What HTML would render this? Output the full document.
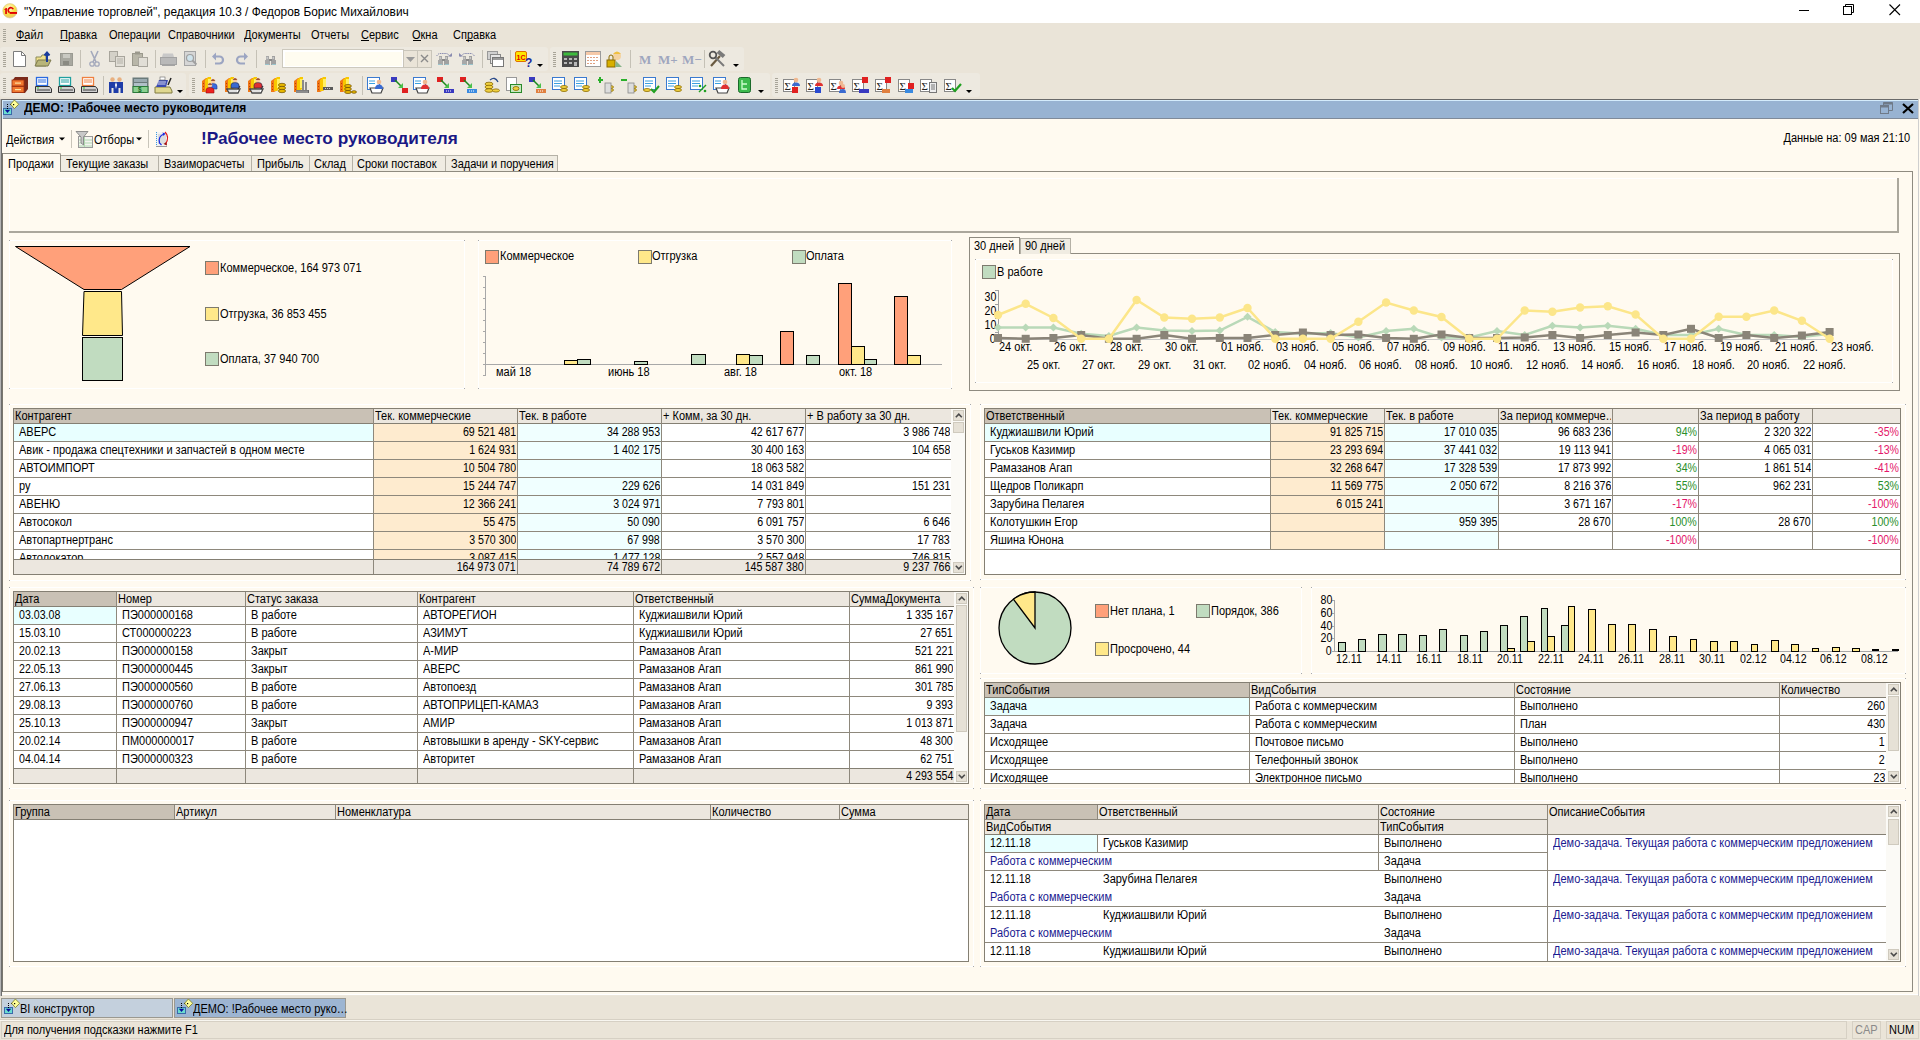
<!DOCTYPE html><html><head><meta charset="utf-8"><style>
html,body{margin:0;padding:0;width:1920px;height:1040px;overflow:hidden;background:#ECE6DA;font-family:"Liberation Sans",sans-serif;font-size:11px;line-height:13px;color:#000}
.t{position:absolute;white-space:nowrap}
.b{position:absolute;display:block}
svg.b{overflow:visible}
.c{position:absolute;top:1px;font-size:12px;line-height:14px;white-space:nowrap;transform:scaleX(0.917)}
</style></head><body>
<div class="b" style="left:0px;top:0px;width:1920px;height:23px;background:#FFFFFF;"></div>
<svg class="b" style="left:0px;top:0px" width="20" height="22" viewBox="0 0 20 22"><defs><radialGradient id="g1c" cx="45%" cy="30%" r="75%"><stop offset="0" stop-color="#FFFCE0"/><stop offset="0.55" stop-color="#F8E040"/><stop offset="1" stop-color="#E8C070"/></radialGradient></defs><circle cx="9.9" cy="10.8" r="7.2" fill="url(#g1c)" stroke="#D8C89A" stroke-width="0.6"/><path d="M4.3 9.2L6 7.9H6.9V13.9H5.2V9.6L4.3 10Z" fill="#E00000"/><path d="M13.2 9.3A2.6 2.6 0 1 0 9.6 12.6" fill="none" stroke="#E00000" stroke-width="1.7"/><rect x="9.7" y="12" width="7.3" height="1.9" fill="#E00000"/></svg>
<div class="t" style="top:5px;font-size:12px;line-height:14px;color:#000;left:24px;transform:scaleX(0.99);transform-origin:0 0;">"Управление торговлей", редакция 10.3 / Федоров Борис Михайлович</div>
<div class="b" style="left:1799px;top:10px;width:10px;height:1px;background:#000;"></div>
<svg class="b" style="left:1843px;top:4px" width="12" height="12"><rect x="0.5" y="2.5" width="8" height="8" fill="none" stroke="#000"/><path d="M2.5 2.5V0.5H10.5V8.5H8.5" fill="none" stroke="#000"/></svg>
<svg class="b" style="left:1889px;top:4px" width="12" height="12"><path d="M0.5 0.5L11 11M11 0.5L0.5 11" stroke="#000" stroke-width="1.1"/></svg>
<div class="b" style="left:0px;top:23px;width:1920px;height:76px;background:#EAE4D8;"></div>
<div class="b" style="left:3px;top:29px;width:3px;height:1px;background:#A8A498;"></div>
<div class="b" style="left:3px;top:31px;width:3px;height:1px;background:#A8A498;"></div>
<div class="b" style="left:3px;top:33px;width:3px;height:1px;background:#A8A498;"></div>
<div class="b" style="left:3px;top:35px;width:3px;height:1px;background:#A8A498;"></div>
<div class="b" style="left:3px;top:37px;width:3px;height:1px;background:#A8A498;"></div>
<div class="b" style="left:3px;top:39px;width:3px;height:1px;background:#A8A498;"></div>
<div class="b" style="left:3px;top:41px;width:3px;height:1px;background:#A8A498;"></div>
<div class="t" style="top:28px;font-size:12px;line-height:14px;left:16px;transform:scaleX(0.917);transform-origin:0 0;">Файл</div>
<div class="t" style="top:28px;font-size:12px;line-height:14px;left:60px;transform:scaleX(0.917);transform-origin:0 0;">Правка</div>
<div class="t" style="top:28px;font-size:12px;line-height:14px;left:109px;transform:scaleX(0.917);transform-origin:0 0;">Операции</div>
<div class="t" style="top:28px;font-size:12px;line-height:14px;left:168px;transform:scaleX(0.917);transform-origin:0 0;">Справочники</div>
<div class="t" style="top:28px;font-size:12px;line-height:14px;left:244px;transform:scaleX(0.917);transform-origin:0 0;">Документы</div>
<div class="t" style="top:28px;font-size:12px;line-height:14px;left:311px;transform:scaleX(0.917);transform-origin:0 0;">Отчеты</div>
<div class="t" style="top:28px;font-size:12px;line-height:14px;left:361px;transform:scaleX(0.917);transform-origin:0 0;">Сервис</div>
<div class="t" style="top:28px;font-size:12px;line-height:14px;left:412px;transform:scaleX(0.917);transform-origin:0 0;">Окна</div>
<div class="t" style="top:28px;font-size:12px;line-height:14px;left:453px;transform:scaleX(0.917);transform-origin:0 0;">Справка</div>
<div class="b" style="left:16px;top:40px;width:11px;height:1px;background:#000;"></div>
<div class="b" style="left:60px;top:40px;width:8px;height:1px;background:#000;"></div>
<div class="b" style="left:361px;top:40px;width:8px;height:1px;background:#000;"></div>
<div class="b" style="left:413px;top:40px;width:8px;height:1px;background:#000;"></div>
<div class="b" style="left:466px;top:40px;width:7px;height:1px;background:#000;"></div>
<div class="b" style="left:0px;top:47px;width:548px;height:24px;background:#EDE9E0;border-radius:3px;"></div>
<div class="b" style="left:3px;top:52px;width:3px;height:1px;background:#A8A498;"></div>
<div class="b" style="left:3px;top:54px;width:3px;height:1px;background:#A8A498;"></div>
<div class="b" style="left:3px;top:56px;width:3px;height:1px;background:#A8A498;"></div>
<div class="b" style="left:3px;top:58px;width:3px;height:1px;background:#A8A498;"></div>
<div class="b" style="left:3px;top:60px;width:3px;height:1px;background:#A8A498;"></div>
<div class="b" style="left:3px;top:62px;width:3px;height:1px;background:#A8A498;"></div>
<div class="b" style="left:3px;top:64px;width:3px;height:1px;background:#A8A498;"></div>
<div class="b" style="left:3px;top:66px;width:3px;height:1px;background:#A8A498;"></div>
<div class="b" style="left:550px;top:47px;width:194px;height:24px;background:#EDE9E0;border-radius:3px;"></div>
<div class="b" style="left:553px;top:52px;width:3px;height:1px;background:#A8A498;"></div>
<div class="b" style="left:553px;top:54px;width:3px;height:1px;background:#A8A498;"></div>
<div class="b" style="left:553px;top:56px;width:3px;height:1px;background:#A8A498;"></div>
<div class="b" style="left:553px;top:58px;width:3px;height:1px;background:#A8A498;"></div>
<div class="b" style="left:553px;top:60px;width:3px;height:1px;background:#A8A498;"></div>
<div class="b" style="left:553px;top:62px;width:3px;height:1px;background:#A8A498;"></div>
<div class="b" style="left:553px;top:64px;width:3px;height:1px;background:#A8A498;"></div>
<div class="b" style="left:553px;top:66px;width:3px;height:1px;background:#A8A498;"></div>
<div class="b" style="left:0px;top:73px;width:186px;height:24px;background:#EDE9E0;border-radius:3px;"></div>
<div class="b" style="left:3px;top:78px;width:3px;height:1px;background:#A8A498;"></div>
<div class="b" style="left:3px;top:80px;width:3px;height:1px;background:#A8A498;"></div>
<div class="b" style="left:3px;top:82px;width:3px;height:1px;background:#A8A498;"></div>
<div class="b" style="left:3px;top:84px;width:3px;height:1px;background:#A8A498;"></div>
<div class="b" style="left:3px;top:86px;width:3px;height:1px;background:#A8A498;"></div>
<div class="b" style="left:3px;top:88px;width:3px;height:1px;background:#A8A498;"></div>
<div class="b" style="left:3px;top:90px;width:3px;height:1px;background:#A8A498;"></div>
<div class="b" style="left:3px;top:92px;width:3px;height:1px;background:#A8A498;"></div>
<div class="b" style="left:189px;top:73px;width:581px;height:24px;background:#EDE9E0;border-radius:3px;"></div>
<div class="b" style="left:192px;top:78px;width:3px;height:1px;background:#A8A498;"></div>
<div class="b" style="left:192px;top:80px;width:3px;height:1px;background:#A8A498;"></div>
<div class="b" style="left:192px;top:82px;width:3px;height:1px;background:#A8A498;"></div>
<div class="b" style="left:192px;top:84px;width:3px;height:1px;background:#A8A498;"></div>
<div class="b" style="left:192px;top:86px;width:3px;height:1px;background:#A8A498;"></div>
<div class="b" style="left:192px;top:88px;width:3px;height:1px;background:#A8A498;"></div>
<div class="b" style="left:192px;top:90px;width:3px;height:1px;background:#A8A498;"></div>
<div class="b" style="left:192px;top:92px;width:3px;height:1px;background:#A8A498;"></div>
<div class="b" style="left:772px;top:73px;width:208px;height:24px;background:#EDE9E0;border-radius:3px;"></div>
<div class="b" style="left:775px;top:78px;width:3px;height:1px;background:#A8A498;"></div>
<div class="b" style="left:775px;top:80px;width:3px;height:1px;background:#A8A498;"></div>
<div class="b" style="left:775px;top:82px;width:3px;height:1px;background:#A8A498;"></div>
<div class="b" style="left:775px;top:84px;width:3px;height:1px;background:#A8A498;"></div>
<div class="b" style="left:775px;top:86px;width:3px;height:1px;background:#A8A498;"></div>
<div class="b" style="left:775px;top:88px;width:3px;height:1px;background:#A8A498;"></div>
<div class="b" style="left:775px;top:90px;width:3px;height:1px;background:#A8A498;"></div>
<div class="b" style="left:775px;top:92px;width:3px;height:1px;background:#A8A498;"></div>
<div class="b" style="left:0px;top:99px;width:1920px;height:1px;background:#6A6A6A;"></div>
<svg class="b" style="left:13px;top:51px" width="14" height="17" viewBox="0 0 14 17"><path d="M0.5 0.5H8.5L12.5 4.5V15.5H0.5Z" fill="#fff" stroke="#7C7C7C"/><path d="M8.5 0.5V4.5H12.5" fill="none" stroke="#7C7C7C"/></svg>
<svg class="b" style="left:35px;top:51px" width="17" height="16" viewBox="0 0 17 16"><path d="M1 6H6L7 4H11V15H1Z" fill="#F0E08A" stroke="#8B8B5A"/><path d="M0 15L3 9H16L13 15Z" fill="#B8B57A" stroke="#7D7A50"/><path d="M12 11V2M9.5 4.5L12 1.5L14.5 4.5" stroke="#1A3C9C" stroke-width="2" fill="none"/></svg>
<svg class="b" style="left:60px;top:53px" width="13" height="13" viewBox="0 0 13 13"><rect x="0.5" y="0.5" width="12" height="12" fill="#A8A8A0" stroke="#9A9A92"/><rect x="3" y="1" width="7" height="4" fill="#C9C9C2"/><rect x="3" y="8" width="6" height="4" fill="#8A8A82"/></svg>
<div class="b" style="left:80px;top:50px;width:1px;height:18px;background:#C5C1B6;"></div>
<svg class="b" style="left:89px;top:51px" width="11" height="16" viewBox="0 0 11 16"><path d="M2 0L7 11M9 0L4 11" stroke="#A4A9BC" stroke-width="1.6"/><circle cx="3" cy="13" r="2.2" fill="none" stroke="#A4A9BC" stroke-width="1.3"/><circle cx="8" cy="13" r="2.2" fill="none" stroke="#A4A9BC" stroke-width="1.3"/></svg>
<svg class="b" style="left:109px;top:51px" width="17" height="16" viewBox="0 0 17 16"><rect x="0.5" y="0.5" width="8" height="10" fill="#D4D1C8" stroke="#A8A59C"/><rect x="6.5" y="5.5" width="9" height="10" fill="#E1DED6" stroke="#A8A59C"/><path d="M8 8H14M8 10H14M8 12H14" stroke="#B4B1A8"/></svg>
<svg class="b" style="left:132px;top:51px" width="16" height="16" viewBox="0 0 16 16"><rect x="0.5" y="2.5" width="10" height="12" fill="#B8B6A8" stroke="#9A988C"/><rect x="3" y="0.5" width="5" height="3" fill="#9A988C"/><rect x="6.5" y="6.5" width="9" height="9" fill="#E1DED6" stroke="#A8A59C"/></svg>
<div class="b" style="left:155px;top:50px;width:1px;height:18px;background:#C5C1B6;"></div>
<svg class="b" style="left:160px;top:53px" width="17" height="14" viewBox="0 0 17 14"><path d="M3 0.5H13L14 4H2Z" fill="#C8C8C8"/><rect x="0.5" y="4.5" width="16" height="7" fill="#B9B9B9" stroke="#A3A3A3"/><rect x="2" y="11" width="13" height="2" fill="#A3A3A3"/></svg>
<svg class="b" style="left:184px;top:51px" width="14" height="16" viewBox="0 0 14 16"><rect x="0.5" y="0.5" width="11" height="14" fill="#D6D6D6" stroke="#A5A5A5"/><circle cx="6" cy="7" r="3.5" fill="#CFE3EC" stroke="#A0A0A0" stroke-width="1.2"/><path d="M8.5 9.5L12.5 13.5" stroke="#A0A0A0" stroke-width="1.8"/></svg>
<div class="b" style="left:205px;top:50px;width:1px;height:18px;background:#C5C1B6;"></div>
<svg class="b" style="left:212px;top:52px" width="12" height="14" viewBox="0 0 12 14"><g><path d="M2.5 4.5H7.5A3.5 3.5 0 0 1 7.5 11.5H3" fill="none" stroke="#9CA5C2" stroke-width="2.2"/><path d="M0 4.5L4 0.5V8.5Z" fill="#9CA5C2"/></g></svg>
<svg class="b" style="left:236px;top:52px" width="12" height="14" viewBox="0 0 12 14"><g transform="translate(12,0) scale(-1,1)"><path d="M2.5 4.5H7.5A3.5 3.5 0 0 1 7.5 11.5H3" fill="none" stroke="#9CA5C2" stroke-width="2.2"/><path d="M0 4.5L4 0.5V8.5Z" fill="#9CA5C2"/></g></svg>
<div class="b" style="left:256px;top:50px;width:1px;height:18px;background:#C5C1B6;"></div>
<svg class="b" style="left:265px;top:56px" width="12" height="10" viewBox="0 0 12 10"><g transform="translate(0,0)"><path d="M1 0H4V4H5V9H0V4H1Z" fill="#A8A8A8"/><path d="M7 0H10V4H11V9H6V4H7Z" fill="#A0A0A0"/><rect x="4" y="3" width="3" height="2" fill="#8A8A8A"/><rect x="1.5" y="1" width="1.5" height="2" fill="#C8C8C8"/><rect x="7.5" y="1" width="1.5" height="2" fill="#C8C8C8"/><rect x="0" y="8" width="4" height="1" fill="#9AC4CC"/><rect x="7" y="8" width="4" height="1" fill="#9AC4CC"/></g></svg>
<div class="b" style="left:282px;top:49px;width:122px;height:19px;background:#FFFFFF;box-sizing:border-box;border:1px solid #CDC9BE;"></div>
<div class="b" style="left:285px;top:52px;width:117px;height:14px;background:#FFFCF0;"></div>
<div class="b" style="left:403px;top:50px;width:15px;height:18px;background:#EAE4D8;box-sizing:border-box;border:1px solid #C9C5BA;"></div>
<div class="b" style="left:417px;top:50px;width:15px;height:18px;background:#EAE4D8;box-sizing:border-box;border:1px solid #C9C5BA;"></div>
<svg class="b" style="left:406px;top:57px" width="9" height="5" viewBox="0 0 9 5"><path d="M0 0H9L4.5 5Z" fill="#9A9A9A"/></svg>
<svg class="b" style="left:420px;top:54px" width="9" height="9" viewBox="0 0 9 9"><path d="M1 1L8 8M8 1L1 8" stroke="#8A8A8A" stroke-width="1.4"/></svg>
<svg class="b" style="left:436px;top:51px" width="17" height="15" viewBox="0 0 17 15"><path d="M0.5 5L3 2.5H11L14.5 5.5" fill="none" stroke="#8A8CB0" stroke-dasharray="1.5 0.7"/><path d="M12 5.5H16V2Z" fill="#8A8CB0"/><g transform="translate(2,5)"><path d="M1 0H4V4H5V9H0V4H1Z" fill="#A8A8A8"/><path d="M7 0H10V4H11V9H6V4H7Z" fill="#A0A0A0"/><rect x="4" y="3" width="3" height="2" fill="#8A8A8A"/><rect x="1.5" y="1" width="1.5" height="2" fill="#C8C8C8"/><rect x="7.5" y="1" width="1.5" height="2" fill="#C8C8C8"/><rect x="0" y="8" width="4" height="1" fill="#9AC4CC"/><rect x="7" y="8" width="4" height="1" fill="#9AC4CC"/></g></svg>
<svg class="b" style="left:459px;top:51px" width="17" height="15" viewBox="0 0 17 15"><path d="M15.5 5L13 2.5H5L1.5 5.5" fill="none" stroke="#8A8CB0" stroke-dasharray="1.5 0.7"/><path d="M4 5.5H0V2Z" fill="#8A8CB0"/><g transform="translate(3,5)"><path d="M1 0H4V4H5V9H0V4H1Z" fill="#A8A8A8"/><path d="M7 0H10V4H11V9H6V4H7Z" fill="#A0A0A0"/><rect x="4" y="3" width="3" height="2" fill="#8A8A8A"/><rect x="1.5" y="1" width="1.5" height="2" fill="#C8C8C8"/><rect x="7.5" y="1" width="1.5" height="2" fill="#C8C8C8"/><rect x="0" y="8" width="4" height="1" fill="#9AC4CC"/><rect x="7" y="8" width="4" height="1" fill="#9AC4CC"/></g></svg>
<div class="b" style="left:482px;top:50px;width:1px;height:18px;background:#C5C1B6;"></div>
<svg class="b" style="left:487px;top:51px" width="17" height="16" viewBox="0 0 17 16"><rect x="0.5" y="0.5" width="10" height="8" fill="#D0D0D0" stroke="#999"/><rect x="3.5" y="3.5" width="10" height="9" fill="#E6E6E6" stroke="#888"/><rect x="5.5" y="6.5" width="11" height="9" fill="#fff" stroke="#777"/><rect x="6" y="7" width="10" height="2" fill="#9A9A9A"/></svg>
<div class="b" style="left:510px;top:50px;width:1px;height:18px;background:#C5C1B6;"></div>
<svg class="b" style="left:515px;top:51px" width="18" height="17" viewBox="0 0 18 17"><rect x="0.5" y="0.5" width="11" height="10" rx="1.5" fill="#FFE700" stroke="#E07000"/><text x="1.5" y="8.5" font-family="Liberation Sans" font-weight="bold" font-size="7" fill="#E00000">1С</text><text x="10" y="16" font-family="Liberation Sans" font-weight="bold" font-size="12" fill="#1A2A9A">?</text></svg>
<svg class="b" style="left:537px;top:64px" width="6" height="3" viewBox="0 0 6 3"><path d="M0 0H6L3 3Z" fill="#000"/></svg>
<svg class="b" style="left:562px;top:51px" width="17" height="16" viewBox="0 0 17 16"><rect x="0" y="0" width="17" height="16" fill="#4A4A4A"/><rect x="1.5" y="1.5" width="14" height="3" fill="#3DBA3D"/><g fill="#B8B8B8"><rect x="2" y="7" width="3" height="2"/><rect x="7" y="7" width="3" height="2"/><rect x="12" y="7" width="3" height="2"/><rect x="2" y="11" width="3" height="2"/><rect x="7" y="11" width="3" height="2"/><rect x="12" y="11" width="3" height="4"/></g></svg>
<svg class="b" style="left:585px;top:51px" width="16" height="16" viewBox="0 0 16 16"><rect x="0.5" y="0.5" width="15" height="15" fill="#fff" stroke="#9A9A9A"/><rect x="1" y="1" width="14" height="3" fill="#F6C9A8"/><g fill="#E0A080"><rect x="2" y="6" width="2" height="1"/><rect x="5" y="6" width="2" height="1"/><rect x="8" y="6" width="2" height="1"/><rect x="11" y="6" width="2" height="1"/><rect x="2" y="9" width="2" height="1"/><rect x="5" y="9" width="2" height="1"/><rect x="8" y="9" width="2" height="1"/><rect x="11" y="9" width="2" height="1"/><rect x="2" y="12" width="2" height="1"/><rect x="5" y="12" width="2" height="1"/><rect x="8" y="12" width="2" height="1"/></g></svg>
<svg class="b" style="left:607px;top:51px" width="16" height="17" viewBox="0 0 16 17"><circle cx="10" cy="5" r="4" fill="#F4D3A0"/><path d="M6 3Q10 -2 14 3" fill="#F0C040"/><rect x="0" y="9" width="8" height="7" fill="#D8B000" stroke="#8A6A00"/><path d="M2 9V6A2 2 0 0 1 6 6V9" fill="none" stroke="#8A6A00"/><path d="M9 10L15 16H8Z" fill="#88B488"/></svg>
<div class="b" style="left:630px;top:50px;width:1px;height:18px;background:#C5C1B6;"></div>
<div class="t" style="left:639px;top:52px;font-family:Liberation Serif;font-weight:bold;font-size:13px;line-height:15px;color:#9FA6BE">M</div>
<div class="t" style="left:658px;top:52px;font-family:Liberation Serif;font-weight:bold;font-size:13px;line-height:15px;color:#9FA6BE">M+</div>
<div class="t" style="left:682px;top:52px;font-family:Liberation Serif;font-weight:bold;font-size:13px;line-height:15px;color:#9FA6BE">M−</div>
<div class="b" style="left:704px;top:50px;width:1px;height:18px;background:#C5C1B6;"></div>
<svg class="b" style="left:709px;top:51px" width="17" height="16" viewBox="0 0 17 16"><path d="M2 15L11 5" stroke="#6A5A40" stroke-width="2.2"/><path d="M15 15L6 6" stroke="#7A7A7A" stroke-width="2"/><rect x="8" y="1" width="8" height="4" fill="#7A7A7A" transform="rotate(40 12 3)"/><circle cx="4" cy="4" r="3.3" fill="none" stroke="#555" stroke-width="1.8"/></svg>
<svg class="b" style="left:733px;top:64px" width="6" height="3" viewBox="0 0 6 3"><path d="M0 0H6L3 3Z" fill="#000"/></svg>
<svg class="b" style="left:12px;top:77px" width="16" height="16" viewBox="0 0 16 16"><path d="M3 0H16V12L13 16H0V4Z" fill="#7A2A1A"/><rect x="0" y="3" width="12" height="6" fill="#F07830" stroke="#A03010" stroke-width="0.8"/><rect x="0" y="9.5" width="12" height="6" fill="#F07830" stroke="#A03010" stroke-width="0.8"/><rect x="3" y="5.5" width="6" height="1.2" fill="#FFE0A0"/><rect x="3" y="12" width="6" height="1.2" fill="#FFE0A0"/></svg>
<svg class="b" style="left:35px;top:77px" width="17" height="16" viewBox="0 0 17 16"><rect x="1.5" y="0.5" width="11" height="8" fill="#fff" stroke="#2A6AE0" stroke-width="1.3"/><path d="M3 3H11M3 5H11" stroke="#2A6AE0"/><path d="M0.5 9.5H14.5L16.5 12V15.5H0.5Z" fill="#D0D0D0" stroke="#333"/><rect x="2" y="12" width="13" height="2" fill="#888"/><rect x="2" y="10.5" width="2" height="1" fill="#3C3"/></svg>
<svg class="b" style="left:58px;top:77px" width="17" height="16" viewBox="0 0 17 16"><rect x="1.5" y="0.5" width="11" height="8" fill="#fff" stroke="#20A0A0" stroke-width="1.3"/><path d="M3 3H11M3 5H11" stroke="#20A0A0"/><path d="M0.5 9.5H14.5L16.5 12V15.5H0.5Z" fill="#D0D0D0" stroke="#333"/><rect x="2" y="12" width="13" height="2" fill="#888"/><rect x="2" y="10.5" width="2" height="1" fill="#3C3"/></svg>
<svg class="b" style="left:81px;top:77px" width="17" height="16" viewBox="0 0 17 16"><rect x="1.5" y="0.5" width="11" height="8" fill="#fff" stroke="#F08040" stroke-width="1.3"/><path d="M3 3H11M3 5H11" stroke="#F08040"/><path d="M0.5 9.5H14.5L16.5 12V15.5H0.5Z" fill="#D0D0D0" stroke="#333"/><rect x="2" y="12" width="13" height="2" fill="#888"/><rect x="2" y="10.5" width="2" height="1" fill="#3C3"/></svg>
<div class="b" style="left:103px;top:76px;width:1px;height:19px;background:#C5C1B6;"></div>
<svg class="b" style="left:109px;top:77px" width="14" height="16" viewBox="0 0 14 16"><circle cx="3.5" cy="2.5" r="2.2" fill="#E8B080"/><circle cx="10.5" cy="2.5" r="2.2" fill="#E8B080"/><path d="M0 5H7V16H4.5V11H2.5V16H0Z" fill="#1F3CA8"/><path d="M7 5H14V16H11.5V11H9.5V16H7Z" fill="#1F3CA8"/><path d="M6 8L7 5L8 8L7 12Z" fill="#fff"/></svg>
<svg class="b" style="left:132px;top:77px" width="17" height="16" viewBox="0 0 17 16"><rect x="0.5" y="0.5" width="16" height="15" fill="#6A7A7A"/><rect x="2" y="2" width="13" height="3" fill="#9AAAB0"/><rect x="2" y="6" width="13" height="3" fill="#B0C0C8"/><rect x="1" y="9.5" width="15" height="6" fill="#8AD090" stroke="#2A7A3A"/><text x="6" y="15" font-family="Liberation Sans" font-weight="bold" font-size="6.5" fill="#1A6A2A">$</text></svg>
<svg class="b" style="left:155px;top:77px" width="17" height="16" viewBox="0 0 17 16"><path d="M0 10H15L17 14V16H0Z" fill="#E0D890" stroke="#807A40"/><path d="M1 10L4 3H13L11 10Z" fill="#3A4AB0"/><path d="M3 5H11M2.5 7H10.5" stroke="#fff" stroke-width="0.8"/><path d="M13 8L16 1" stroke="#222" stroke-width="1.5"/><rect x="5" y="0" width="5" height="3" fill="#fff" stroke="#666" stroke-width="0.6"/></svg>
<svg class="b" style="left:177px;top:90px" width="6" height="3" viewBox="0 0 6 3"><path d="M0 0H6L3 3Z" fill="#000"/></svg>
<svg class="b" style="left:202px;top:77px" width="16" height="16" viewBox="0 0 16 16"><path d="M0 4L4 1H7V13L3 15H0Z" fill="#F07818"/><path d="M3 3L6 0H9V11L6 14H3Z" fill="#F8C800"/><path d="M6 2H9V11H6Z" fill="#FFF060"/><g fill="#C04000"><rect x="1" y="6" width="1" height="1"/><rect x="1" y="9" width="1" height="1"/><rect x="1" y="12" width="1" height="1"/></g><path d="M7 12V9Q7 6.5 11 6.5Q15 6.5 15 9V12Z" fill="#3A6AE0" stroke="#1A3A90" stroke-width="0.6"/><circle cx="11" cy="4" r="2.3" fill="#F8C8A0"/><path d="M8.6 3.8Q11 0.5 13.4 3.8" fill="#7A2A10"/><path d="M4 16V13Q4 10.5 8 10.5Q12 10.5 12 13V16Z" fill="#F02020" stroke="#901010" stroke-width="0.6"/><circle cx="8" cy="8" r="2.3" fill="#F8C8A0"/><path d="M5.6 7.8Q8 4.5 10.4 7.8" fill="#7A2A10"/></svg>
<svg class="b" style="left:225px;top:77px" width="16" height="16" viewBox="0 0 16 16"><g><path d="M0 4L4 1H7V13L3 15H0Z" fill="#F07818"/><path d="M3 3L6 0H9V11L6 14H3Z" fill="#F8C800"/><path d="M6 2H9V11H6Z" fill="#FFF060"/><g fill="#C04000"><rect x="1" y="6" width="1" height="1"/><rect x="1" y="9" width="1" height="1"/><rect x="1" y="12" width="1" height="1"/></g></g><g transform="translate(2,2)"><path d="M0 10H13L11 14H2Z" fill="#fff" stroke="#4A4A4A" stroke-width="1.3"/><path d="M2.5 12H10.5" stroke="#888" stroke-dasharray="1 1"/><path d="M11 10L13 7" stroke="#333" stroke-width="1.2"/></g><path d="M6 11V8Q6 5.5 10 5.5Q14 5.5 14 8V11Z" fill="#3A6AD0" stroke="#202040" stroke-width="0.6"/><circle cx="10" cy="3" r="2.3" fill="#F8C8A0"/><path d="M7.6 2.8Q10 -0.5 12.4 2.8" fill="#7A2A10"/></svg>
<svg class="b" style="left:248px;top:77px" width="16" height="16" viewBox="0 0 16 16"><g><path d="M0 4L4 1H7V13L3 15H0Z" fill="#F07818"/><path d="M3 3L6 0H9V11L6 14H3Z" fill="#F8C800"/><path d="M6 2H9V11H6Z" fill="#FFF060"/><g fill="#C04000"><rect x="1" y="6" width="1" height="1"/><rect x="1" y="9" width="1" height="1"/><rect x="1" y="12" width="1" height="1"/></g></g><g transform="translate(2,2)"><path d="M0 10H13L11 14H2Z" fill="#fff" stroke="#4A4A4A" stroke-width="1.3"/><path d="M2.5 12H10.5" stroke="#888" stroke-dasharray="1 1"/><path d="M11 10L13 7" stroke="#333" stroke-width="1.2"/></g><path d="M6 11V8Q6 5.5 10 5.5Q14 5.5 14 8V11Z" fill="#E03030" stroke="#202040" stroke-width="0.6"/><circle cx="10" cy="3" r="2.3" fill="#F8C8A0"/><path d="M7.6 2.8Q10 -0.5 12.4 2.8" fill="#7A2A10"/></svg>
<svg class="b" style="left:271px;top:77px" width="16" height="16" viewBox="0 0 16 16"><path d="M0 4L4 1H7V13L3 15H0Z" fill="#F07818"/><path d="M3 3L6 0H9V11L6 14H3Z" fill="#F8C800"/><path d="M6 2H9V11H6Z" fill="#FFF060"/><g fill="#C04000"><rect x="1" y="6" width="1" height="1"/><rect x="1" y="9" width="1" height="1"/><rect x="1" y="12" width="1" height="1"/></g><g stroke="#6A4A00" stroke-width="0.7"><ellipse cx="11" cy="8" rx="3.6" ry="1.7" fill="#E8B800"/><ellipse cx="11" cy="11" rx="3.6" ry="1.7" fill="#E8B800"/><ellipse cx="11" cy="14" rx="3.6" ry="1.7" fill="#E8B800"/></g></svg>
<svg class="b" style="left:294px;top:77px" width="16" height="16" viewBox="0 0 16 16"><path d="M0 4L4 1H7V13L3 15H0Z" fill="#F07818"/><path d="M3 3L6 0H9V11L6 14H3Z" fill="#F8C800"/><path d="M6 2H9V11H6Z" fill="#FFF060"/><g fill="#C04000"><rect x="1" y="6" width="1" height="1"/><rect x="1" y="9" width="1" height="1"/><rect x="1" y="12" width="1" height="1"/></g><rect x="2" y="13" width="13" height="3" fill="#6A6A6A"/><path d="M3 13.5V16M5 13.5V16M7 13.5V16M9 13.5V16M11 13.5V16M13 13.5V16" stroke="#C0C0C0" stroke-width="0.8"/><rect x="8" y="3" width="2" height="10" fill="#8A8A8A"/><rect x="11" y="5" width="2" height="8" fill="#8A8A8A"/></svg>
<svg class="b" style="left:317px;top:77px" width="16" height="16" viewBox="0 0 16 16"><path d="M0 4L4 1H7V13L3 15H0Z" fill="#F07818"/><path d="M3 3L6 0H9V11L6 14H3Z" fill="#F8C800"/><path d="M6 2H9V11H6Z" fill="#FFF060"/><g fill="#C04000"><rect x="1" y="6" width="1" height="1"/><rect x="1" y="9" width="1" height="1"/><rect x="1" y="12" width="1" height="1"/></g><rect x="6" y="10" width="10" height="3" fill="#5A5A5A"/><path d="M8 11.5H14" stroke="#ccc" stroke-dasharray="1 1"/></svg>
<svg class="b" style="left:340px;top:77px" width="16" height="16" viewBox="0 0 16 16"><path d="M0 4L4 1H7V13L3 15H0Z" fill="#F07818"/><path d="M3 3L6 0H9V11L6 14H3Z" fill="#F8C800"/><path d="M6 2H9V11H6Z" fill="#FFF060"/><g fill="#C04000"><rect x="1" y="6" width="1" height="1"/><rect x="1" y="9" width="1" height="1"/><rect x="1" y="12" width="1" height="1"/></g><g stroke="#6A4A00" stroke-width="0.7"><ellipse cx="8" cy="9" rx="3.4" ry="1.6" fill="#E8B800"/><ellipse cx="8" cy="12" rx="3.4" ry="1.6" fill="#E8B800"/><ellipse cx="8" cy="15" rx="3.4" ry="1.5" fill="#E8B800"/><ellipse cx="14" cy="15" rx="2.5" ry="1.3" fill="#E8B800"/></g></svg>
<div class="b" style="left:362px;top:76px;width:1px;height:19px;background:#C5C1B6;"></div>
<svg class="b" style="left:367px;top:77px" width="17" height="16" viewBox="0 0 17 16"><rect x="0.5" y="0.5" width="12" height="12" fill="#fff" stroke="#3A7AD0"/><path d="M2 4H8M2 6.5H8" stroke="#3AA0E0"/><path d="M3 11H16L14 16H5Z" fill="#fff" stroke="#444" stroke-width="1.2"/><circle cx="12" cy="5" r="2.3" fill="#F0B890"/><path d="M8 12Q8 7.5 12 7.5Q16 7.5 16 12Z" fill="#3A6AD0"/></svg>
<svg class="b" style="left:391px;top:77px" width="17" height="16" viewBox="0 0 17 16"><rect x="0" y="0" width="6" height="5" fill="#3A3AC0"/><path d="M4 3L11 10" stroke="#1A8A1A" stroke-width="1.5"/><path d="M7 11H12V6Z" fill="#4AC04A"/><rect x="11" y="11" width="6" height="5" fill="#E02020"/></svg>
<svg class="b" style="left:413px;top:77px" width="17" height="16" viewBox="0 0 17 16"><rect x="0.5" y="0.5" width="12" height="12" fill="#fff" stroke="#3A7AD0"/><path d="M2 4H8M2 6.5H8" stroke="#3AA0E0"/><path d="M3 11H16L14 16H5Z" fill="#fff" stroke="#444" stroke-width="1.2"/><circle cx="12" cy="5" r="2.3" fill="#F0B890"/><path d="M8 12Q8 7.5 12 7.5Q16 7.5 16 12Z" fill="#E03030"/></svg>
<svg class="b" style="left:437px;top:77px" width="17" height="16" viewBox="0 0 17 16"><rect x="0" y="0" width="6" height="5" fill="#E02020"/><path d="M4 3L11 10" stroke="#1A8A1A" stroke-width="1.5"/><path d="M7 11H12V6Z" fill="#4AC04A"/><rect x="7" y="12" width="10" height="4" fill="#3A3AC0"/><path d="M9 14H15" stroke="#fff" stroke-dasharray="1 1"/></svg>
<svg class="b" style="left:460px;top:77px" width="17" height="16" viewBox="0 0 17 16"><rect x="0" y="0" width="6" height="5" fill="#E02020"/><path d="M4 3L11 10" stroke="#1A8A1A" stroke-width="1.5"/><path d="M7 11H12V6Z" fill="#4AC04A"/><rect x="7" y="12" width="10" height="4" fill="#3A8AE0"/><path d="M9 14H15" stroke="#fff" stroke-dasharray="1 1"/></svg>
<svg class="b" style="left:484px;top:77px" width="16" height="16" viewBox="0 0 16 16"><ellipse cx="5" cy="7" rx="4" ry="1.8" fill="#F0D040" stroke="#8A6A00" stroke-width="0.8"/><ellipse cx="5" cy="10" rx="4" ry="1.8" fill="#F0D040" stroke="#8A6A00" stroke-width="0.8"/><ellipse cx="5" cy="13.5" rx="4" ry="1.8" fill="#F0D040" stroke="#8A6A00" stroke-width="0.8"/><ellipse cx="12" cy="13.5" rx="3.5" ry="1.6" fill="#F0D040" stroke="#8A6A00" stroke-width="0.8"/><path d="M6 3Q11 -1 14 5" fill="none" stroke="#2A4A8A" stroke-width="1.3"/></svg>
<svg class="b" style="left:506px;top:77px" width="16" height="16" viewBox="0 0 16 16"><rect x="0.5" y="0.5" width="10" height="13" fill="#fff" stroke="#999"/><rect x="4.5" y="7.5" width="11" height="8" fill="#C8E8C0" stroke="#2A8A2A"/><ellipse cx="10" cy="11.5" rx="3" ry="2" fill="#F0D040" stroke="#8A6A00" stroke-width="0.8"/></svg>
<svg class="b" style="left:529px;top:77px" width="17" height="16" viewBox="0 0 17 16"><rect x="0" y="0" width="6" height="5" fill="#3A3AC0"/><path d="M4 3L11 10" stroke="#1A8A1A" stroke-width="1.5"/><path d="M7 11H12V6Z" fill="#4AC04A"/><rect x="7" y="12" width="10" height="4" fill="#E08040"/><path d="M9 14H15" stroke="#fff" stroke-dasharray="1 1"/></svg>
<svg class="b" style="left:552px;top:77px" width="17" height="16" viewBox="0 0 17 16"><rect x="0.5" y="0.5" width="12" height="12" fill="#fff" stroke="#3A7AD0"/><path d="M2 4H10M2 6.5H10M2 9H8" stroke="#3AA0E0"/><ellipse cx="12" cy="10" rx="3.5" ry="1.5" fill="#F0D040" stroke="#8A6A00" stroke-width="0.8"/><ellipse cx="12" cy="13" rx="3.5" ry="1.5" fill="#F0D040" stroke="#8A6A00" stroke-width="0.8"/></svg>
<svg class="b" style="left:574px;top:77px" width="17" height="16" viewBox="0 0 17 16"><rect x="0.5" y="0.5" width="12" height="12" fill="#fff" stroke="#3A7AD0"/><path d="M2 4H10M2 6.5H10M2 9H8" stroke="#3AA0E0"/><ellipse cx="12" cy="10" rx="3.5" ry="1.5" fill="#F0D040" stroke="#8A6A00" stroke-width="0.8"/><ellipse cx="12" cy="13" rx="3.5" ry="1.5" fill="#F0D040" stroke="#8A6A00" stroke-width="0.8"/></svg>
<svg class="b" style="left:598px;top:77px" width="16" height="16" viewBox="0 0 16 16"><path d="M2 0V6M0 3H5" stroke="#2AB02A" stroke-width="2"/><ellipse cx="12" cy="10" rx="3.5" ry="1.5" fill="#F0D040" stroke="#8A6A00" stroke-width="0.8"/><ellipse cx="12" cy="13" rx="3.5" ry="1.5" fill="#F0D040" stroke="#8A6A00" stroke-width="0.8"/><rect x="7" y="6" width="6" height="10" fill="#ddd" stroke="#888" stroke-width="0.8"/></svg>
<svg class="b" style="left:621px;top:77px" width="16" height="16" viewBox="0 0 16 16"><path d="M0 3H6" stroke="#2AB02A" stroke-width="2"/><ellipse cx="12" cy="10" rx="3.5" ry="1.5" fill="#F0D040" stroke="#8A6A00" stroke-width="0.8"/><ellipse cx="12" cy="13" rx="3.5" ry="1.5" fill="#F0D040" stroke="#8A6A00" stroke-width="0.8"/><rect x="7" y="6" width="6" height="10" fill="#ddd" stroke="#888" stroke-width="0.8"/></svg>
<svg class="b" style="left:643px;top:77px" width="17" height="16" viewBox="0 0 17 16"><rect x="0.5" y="0.5" width="12" height="12" fill="#fff" stroke="#3A7AD0"/><path d="M2 4H10M2 6.5H10M2 9H8" stroke="#3AA0E0"/><path d="M8 12L11 15L16 9" stroke="#20A020" stroke-width="2" fill="none"/><ellipse cx="4" cy="13" rx="3.5" ry="1.5" fill="#F0D040" stroke="#8A6A00" stroke-width="0.8"/></svg>
<svg class="b" style="left:666px;top:77px" width="17" height="16" viewBox="0 0 17 16"><rect x="0.5" y="0.5" width="12" height="12" fill="#fff" stroke="#3A7AD0"/><path d="M2 4H10M2 6.5H10M2 9H8" stroke="#3AA0E0"/><ellipse cx="12" cy="10" rx="3.5" ry="1.5" fill="#F0D040" stroke="#8A6A00" stroke-width="0.8"/><ellipse cx="12" cy="13" rx="3.5" ry="1.5" fill="#F0D040" stroke="#8A6A00" stroke-width="0.8"/></svg>
<svg class="b" style="left:690px;top:77px" width="17" height="16" viewBox="0 0 17 16"><rect x="0.5" y="0.5" width="12" height="12" fill="#fff" stroke="#3A7AD0"/><path d="M2 4H10M2 6.5H10M2 9H8" stroke="#3AA0E0"/><path d="M9 15L16 8" stroke="#20A020" stroke-width="1.5"/><circle cx="10" cy="9" r="1.3" fill="#20A020"/><circle cx="15" cy="14" r="1.3" fill="#20A020"/></svg>
<svg class="b" style="left:713px;top:77px" width="17" height="16" viewBox="0 0 17 16"><rect x="0.5" y="0.5" width="12" height="12" fill="#fff" stroke="#3A7AD0"/><path d="M2 4H8M2 6.5H8" stroke="#3AA0E0"/><path d="M3 11H16L14 16H5Z" fill="#fff" stroke="#444" stroke-width="1.2"/><circle cx="12" cy="5" r="2.3" fill="#F0B890"/><path d="M8 12Q8 7.5 12 7.5Q16 7.5 16 12Z" fill="#E03030"/></svg>
<svg class="b" style="left:738px;top:77px" width="13" height="16" viewBox="0 0 13 16"><rect x="0.5" y="0.5" width="12" height="15" rx="2" fill="#3DBA4D" stroke="#1A6A2A"/><path d="M4 3V12H9M4 7H9" stroke="#D0FFD0" stroke-width="1.3" fill="none"/></svg>
<svg class="b" style="left:758px;top:90px" width="6" height="3" viewBox="0 0 6 3"><path d="M0 0H6L3 3Z" fill="#000"/></svg>
<svg class="b" style="left:783px;top:77px" width="17" height="16" viewBox="0 0 17 16"><rect x="0.5" y="2.5" width="11" height="12" fill="#fff" stroke="#888"/><text x="1.5" y="12.5" font-family="Liberation Serif" font-size="11" fill="#222">Σ</text><circle cx="13" cy="3" r="2.3" fill="#F0B890"/><path d="M9 9Q9 5.5 13 5.5Q17 5.5 17 9Z" fill="#3A6AD0"/><rect x="9" y="10" width="6" height="6" fill="#E02020"/></svg>
<svg class="b" style="left:806px;top:77px" width="17" height="16" viewBox="0 0 17 16"><rect x="0.5" y="2.5" width="11" height="12" fill="#fff" stroke="#888"/><text x="1.5" y="12.5" font-family="Liberation Serif" font-size="11" fill="#222">Σ</text><circle cx="13" cy="3" r="2.3" fill="#F0B890"/><path d="M9 9Q9 5.5 13 5.5Q17 5.5 17 9Z" fill="#E03030"/><rect x="9" y="10" width="6" height="6" fill="#2A4AD0"/></svg>
<svg class="b" style="left:829px;top:77px" width="17" height="16" viewBox="0 0 17 16"><rect x="0.5" y="2.5" width="11" height="12" fill="#fff" stroke="#888"/><text x="1.5" y="12.5" font-family="Liberation Serif" font-size="11" fill="#222">Σ</text><circle cx="12" cy="6" r="2.3" fill="#F0B890"/><path d="M8 12Q8 8.5 12 8.5Q16 8.5 16 12Z" fill="#E03030"/><circle cx="14" cy="9" r="2" fill="#F0B890"/><path d="M10 16Q10 12 14 12Q17 12 17 16Z" fill="#3A6AD0"/></svg>
<svg class="b" style="left:852px;top:77px" width="17" height="16" viewBox="0 0 17 16"><rect x="0.5" y="2.5" width="11" height="12" fill="#fff" stroke="#888"/><text x="1.5" y="12.5" font-family="Liberation Serif" font-size="11" fill="#222">Σ</text><rect x="10" y="0" width="6" height="6" fill="#E02020"/><rect x="7" y="12" width="10" height="4" fill="#3A3AC0"/></svg>
<svg class="b" style="left:875px;top:77px" width="17" height="16" viewBox="0 0 17 16"><rect x="0.5" y="2.5" width="11" height="12" fill="#fff" stroke="#888"/><text x="1.5" y="12.5" font-family="Liberation Serif" font-size="11" fill="#222">Σ</text><rect x="10" y="0" width="6" height="6" fill="#E02020"/><rect x="7" y="12" width="8" height="4" fill="#E08040"/></svg>
<svg class="b" style="left:898px;top:77px" width="17" height="16" viewBox="0 0 17 16"><rect x="0.5" y="2.5" width="11" height="12" fill="#fff" stroke="#888"/><text x="1.5" y="12.5" font-family="Liberation Serif" font-size="11" fill="#222">Σ</text><rect x="10" y="6" width="6" height="6" fill="#E02020"/><rect x="7" y="12" width="8" height="4" fill="#3A8AE0"/></svg>
<svg class="b" style="left:920px;top:77px" width="17" height="16" viewBox="0 0 17 16"><rect x="0.5" y="2.5" width="11" height="12" fill="#fff" stroke="#888"/><text x="1.5" y="12.5" font-family="Liberation Serif" font-size="11" fill="#222">Σ</text><rect x="9.5" y="5.5" width="7" height="10" fill="#eee" stroke="#777"/><path d="M11 8H15M11 10H15M11 12H15" stroke="#777"/></svg>
<svg class="b" style="left:944px;top:77px" width="17" height="16" viewBox="0 0 17 16"><rect x="0.5" y="2.5" width="11" height="12" fill="#fff" stroke="#888"/><text x="1.5" y="12.5" font-family="Liberation Serif" font-size="11" fill="#222">Σ</text><path d="M8 11L11 14L17 7" stroke="#20A020" stroke-width="2.2" fill="none"/></svg>
<svg class="b" style="left:966px;top:90px" width="6" height="3" viewBox="0 0 6 3"><path d="M0 0H6L3 3Z" fill="#000"/></svg>
<div class="b" style="left:0px;top:100px;width:1918px;height:18px;background:#98B3D2;"></div>
<div class="b" style="left:0px;top:100px;width:1918px;height:1px;background:#D4ECFC;"></div>
<div class="b" style="left:0px;top:118px;width:1918px;height:1px;background:#7F8A99;"></div>
<svg class="b" style="left:0px;top:99px" width="20" height="17" viewBox="0 0 20 17"><rect x="3.5" y="9.5" width="8" height="6" fill="#6ADCD0" stroke="#3A6AAA"/><path d="M4.8 10.8H10.2L7.5 14Z" fill="#0A0A9A"/><g fill="#000"><rect x="7" y="5" width="1" height="1"/><rect x="10" y="5" width="1" height="1"/><rect x="7" y="7" width="1" height="1"/><rect x="7" y="9" width="1" height="1"/></g><path d="M14.4 1L18.7 5.3L14.4 9.6L10.6 5.3Z" fill="#FFFF9A" stroke="#7A7A20" stroke-width="0.8"/><rect x="13" y="5" width="1.2" height="1.2" fill="#000"/></svg>
<div class="b" style="left:2px;top:100px;width:1px;height:19px;background:#D4ECFC;"></div>
<div class="t" style="top:100px;font-size:13px;line-height:15px;font-weight:bold;left:24px;transform:scaleX(0.925);transform-origin:0 0;">ДЕМО: !Рабочее место руководителя</div>
<svg class="b" style="left:1880px;top:102px" width="13" height="12" viewBox="0 0 13 12"><rect x="0.5" y="3.5" width="8" height="8" fill="none" stroke="#6F7A88"/><path d="M3.5 3.5V0.5H12.5V8.5H8.5" fill="none" stroke="#6F7A88"/><rect x="0.5" y="3.5" width="8" height="2" fill="#6F7A88"/><rect x="3.5" y="0.5" width="9" height="2" fill="#6F7A88"/></svg>
<svg class="b" style="left:1902px;top:103px" width="12" height="11" viewBox="0 0 12 11"><path d="M1 1L11 10M11 1L1 10" stroke="#000" stroke-width="2.2"/></svg>
<div class="b" style="left:2px;top:119px;width:1916px;height:876px;background:#FFFAF0;"></div>
<div class="b" style="left:0px;top:99px;width:1px;height:897px;background:#B5B5B5;"></div>
<div class="b" style="left:1px;top:99px;width:1px;height:897px;background:#6E6E6E;"></div>
<div class="b" style="left:1918px;top:99px;width:1px;height:897px;background:#CFCFCF;"></div>
<div class="b" style="left:1919px;top:99px;width:1px;height:897px;background:#FFFAF0;"></div>
<div class="t" style="top:133px;font-size:12px;line-height:14px;left:6px;transform:scaleX(0.917);transform-origin:0 0;">Действия</div>
<svg class="b" style="left:59px;top:137px" width="6" height="4" viewBox="0 0 6 4"><path d="M0 0.5H6L3 3.5Z" fill="#000"/></svg>
<div class="b" style="left:71px;top:130px;width:1px;height:18px;background:#C9C5BA;"></div>
<svg class="b" style="left:76px;top:131px" width="17" height="17" viewBox="0 0 17 17"><rect x="2.5" y="5.5" width="14" height="11" fill="#F4F4F0" stroke="#9A9A9A"/><path d="M3 9H16M3 12H16M3 15H16M8.5 6V16" stroke="#B0D8B0"/><path d="M0 0.5H12L7.5 6V14L5 12V6Z" fill="#C8C8C8" stroke="#7A7A7A" stroke-width="0.8"/></svg>
<div class="t" style="top:133px;font-size:12px;line-height:14px;left:94px;transform:scaleX(0.917);transform-origin:0 0;">Отборы</div>
<svg class="b" style="left:136px;top:137px" width="6" height="4" viewBox="0 0 6 4"><path d="M0 0.5H6L3 3.5Z" fill="#000"/></svg>
<div class="b" style="left:148px;top:130px;width:1px;height:18px;background:#C9C5BA;"></div>
<svg class="b" style="left:155px;top:131px" width="16" height="17" viewBox="0 0 16 17"><rect x="1" y="1" width="11" height="14" fill="#F2F2F2"/><path d="M1.5 1V15" stroke="#3A9AE0" stroke-dasharray="1 1"/><path d="M3 4H11M3 6H11M3 8H11M3 10H11M3 12H11" stroke="#C8C8C8"/><rect x="1" y="15" width="11" height="1" fill="#9A9A9A"/><path d="M9 3Q3 5 4.5 12L6.5 14" fill="none" stroke="#1A2AE0" stroke-width="1.2"/><path d="M7.5 1.5L10.5 2.5L8.5 5Z" fill="#1A2AE0"/><path d="M10 1Q15 6 10.5 13" fill="none" stroke="#E01A1A" stroke-width="1.2"/><path d="M8.5 13L12 14.5L11.5 11Z" fill="#A01010"/></svg></svg>
<div class="t" style="top:129px;font-size:17px;line-height:20px;color:#1A1885;font-weight:bold;left:201px;transform:scaleX(1.015);transform-origin:0 0;">!Рабочее место руководителя</div>
<div class="t" style="top:131px;font-size:12px;line-height:14px;right:10px;transform:scaleX(0.917);transform-origin:100% 0;">Данные на: 09 мая 21:10</div>
<div class="b" style="left:2px;top:171px;width:1911px;height:1px;background:#8F8B80;"></div>
<div class="b" style="left:1912px;top:171px;width:1px;height:821px;background:#8F8B80;"></div>
<div class="b" style="left:2px;top:991px;width:1911px;height:1px;background:#8F8B80;"></div>
<div class="b" style="left:2px;top:994px;width:1916px;height:1px;background:#FFFFFF;"></div>
<div class="b" style="left:60px;top:155px;width:99px;height:16px;background:#F0ECE2;box-sizing:border-box;border:1px solid #B5B1A6;border-bottom:none;"></div>
<div class="b" style="left:158px;top:155px;width:94px;height:16px;background:#F0ECE2;box-sizing:border-box;border:1px solid #B5B1A6;border-bottom:none;"></div>
<div class="b" style="left:251px;top:155px;width:59px;height:16px;background:#F0ECE2;box-sizing:border-box;border:1px solid #B5B1A6;border-bottom:none;"></div>
<div class="b" style="left:309px;top:155px;width:44px;height:16px;background:#F0ECE2;box-sizing:border-box;border:1px solid #B5B1A6;border-bottom:none;"></div>
<div class="b" style="left:352px;top:155px;width:94px;height:16px;background:#F0ECE2;box-sizing:border-box;border:1px solid #B5B1A6;border-bottom:none;"></div>
<div class="b" style="left:445px;top:155px;width:113px;height:16px;background:#F0ECE2;box-sizing:border-box;border:1px solid #B5B1A6;border-bottom:none;"></div>
<div class="b" style="left:2px;top:153px;width:59px;height:19px;background:#FFFAF0;box-sizing:border-box;border:1px solid #8F8B80;border-bottom:none;border-left:none;border-radius:0 2px 0 0;"></div>
<div class="b" style="left:2px;top:153px;width:1px;height:839px;background:#7A776E;"></div>
<div class="t" style="top:157px;font-size:12px;line-height:14px;left:8px;transform:scaleX(0.917);transform-origin:0 0;">Продажи</div>
<div class="t" style="top:157px;font-size:12px;line-height:14px;left:66px;transform:scaleX(0.917);transform-origin:0 0;">Текущие заказы</div>
<div class="t" style="top:157px;font-size:12px;line-height:14px;left:164px;transform:scaleX(0.917);transform-origin:0 0;">Взаиморасчеты</div>
<div class="t" style="top:157px;font-size:12px;line-height:14px;left:257px;transform:scaleX(0.917);transform-origin:0 0;">Прибыль</div>
<div class="t" style="top:157px;font-size:12px;line-height:14px;left:314px;transform:scaleX(0.917);transform-origin:0 0;">Склад</div>
<div class="t" style="top:157px;font-size:12px;line-height:14px;left:357px;transform:scaleX(0.917);transform-origin:0 0;">Сроки поставок</div>
<div class="t" style="top:157px;font-size:12px;line-height:14px;left:451px;transform:scaleX(0.917);transform-origin:0 0;">Задачи и поручения</div>
<div class="b" style="left:9px;top:178px;width:1890px;height:1px;background:#FFFFFF;"></div>
<div class="b" style="left:9px;top:178px;width:1px;height:55px;background:#FFFFFF;"></div>
<div class="b" style="left:9px;top:231px;width:1890px;height:2px;background:#ABA79C;"></div>
<div class="b" style="left:1897px;top:178px;width:2px;height:55px;background:#ABA79C;"></div>
<div class="b" style="left:9px;top:240px;width:456px;height:1px;background:#FFFFFF;"></div>
<div class="b" style="left:9px;top:240px;width:1px;height:149px;background:#FFFFFF;"></div>
<div class="b" style="left:464px;top:240px;width:1px;height:149px;background:#FFFFFF;"></div>
<div class="b" style="left:9px;top:388px;width:456px;height:1px;background:#FFFFFF;"></div>
<div class="b" style="left:9px;top:240px;width:1px;height:1px;background:#A8A8A8;"></div>
<div class="b" style="left:464px;top:240px;width:1px;height:1px;background:#A8A8A8;"></div>
<div class="b" style="left:9px;top:388px;width:1px;height:1px;background:#A8A8A8;"></div>
<div class="b" style="left:464px;top:388px;width:1px;height:1px;background:#A8A8A8;"></div>
<svg class="b" style="left:14px;top:245px" width="178" height="137" viewBox="0 0 178 137"><path d="M1.5 1.5H176L107.5 44.5H70Z" fill="#FFA07A" stroke="#000" stroke-width="1"/><path d="M70 46.5H107.5L108.5 90.5H68.5Z" fill="#FFE88A" stroke="#000" stroke-width="1"/><rect x="68.5" y="92.5" width="40" height="43" fill="#C1DCC0" stroke="#000" stroke-width="1"/></svg>
<div class="b" style="left:205px;top:261px;width:14px;height:14px;background:#FFA07A;box-sizing:border-box;border:1px solid #7D7A6E;"></div>
<div class="t" style="top:261px;font-size:12px;line-height:14px;left:220px;transform:scaleX(0.917);transform-origin:0 0;">Коммерческое, 164 973 071</div>
<div class="b" style="left:205px;top:307px;width:14px;height:14px;background:#FFE88A;box-sizing:border-box;border:1px solid #7D7A6E;"></div>
<div class="t" style="top:307px;font-size:12px;line-height:14px;left:220px;transform:scaleX(0.917);transform-origin:0 0;">Отгрузка, 36 853 455</div>
<div class="b" style="left:205px;top:352px;width:14px;height:14px;background:#C1DCC0;box-sizing:border-box;border:1px solid #7D7A6E;"></div>
<div class="t" style="top:352px;font-size:12px;line-height:14px;left:220px;transform:scaleX(0.917);transform-origin:0 0;">Оплата, 37 940 700</div>
<div class="b" style="left:478px;top:240px;width:474px;height:1px;background:#FFFFFF;"></div>
<div class="b" style="left:478px;top:240px;width:1px;height:149px;background:#FFFFFF;"></div>
<div class="b" style="left:951px;top:240px;width:1px;height:149px;background:#FFFFFF;"></div>
<div class="b" style="left:478px;top:388px;width:474px;height:1px;background:#FFFFFF;"></div>
<div class="b" style="left:478px;top:240px;width:1px;height:1px;background:#A8A8A8;"></div>
<div class="b" style="left:951px;top:240px;width:1px;height:1px;background:#A8A8A8;"></div>
<div class="b" style="left:478px;top:388px;width:1px;height:1px;background:#A8A8A8;"></div>
<div class="b" style="left:951px;top:388px;width:1px;height:1px;background:#A8A8A8;"></div>
<div class="b" style="left:485px;top:250px;width:14px;height:14px;background:#FFA07A;box-sizing:border-box;border:1px solid #7D7A6E;"></div>
<div class="t" style="top:249px;font-size:12px;line-height:14px;left:500px;transform:scaleX(0.917);transform-origin:0 0;">Коммерческое</div>
<div class="b" style="left:638px;top:250px;width:14px;height:14px;background:#FFE88A;box-sizing:border-box;border:1px solid #7D7A6E;"></div>
<div class="t" style="top:249px;font-size:12px;line-height:14px;left:652px;transform:scaleX(0.917);transform-origin:0 0;">Отгрузка</div>
<div class="b" style="left:792px;top:250px;width:14px;height:14px;background:#C1DCC0;box-sizing:border-box;border:1px solid #7D7A6E;"></div>
<div class="t" style="top:249px;font-size:12px;line-height:14px;left:806px;transform:scaleX(0.917);transform-origin:0 0;">Оплата</div>
<svg class="b" style="left:478px;top:240px" width="470" height="145" viewBox="0 0 470 145"><path d="M7.5 36V136" stroke="#A8A8A8"/><path d="M5 124.5H464" stroke="#A8A8A8"/><path d="M5 135.5H8" stroke="#A8A8A8"/><path d="M5 36.5H8" stroke="#A8A8A8"/><path d="M5 47.5H8" stroke="#A8A8A8"/><path d="M5 58.5H8" stroke="#A8A8A8"/><path d="M5 69.5H8" stroke="#A8A8A8"/><path d="M5 80.5H8" stroke="#A8A8A8"/><path d="M5 91.5H8" stroke="#A8A8A8"/><path d="M5 102.5H8" stroke="#A8A8A8"/><path d="M5 113.5H8" stroke="#A8A8A8"/><path d="M5 124.5H8" stroke="#A8A8A8"/><rect x="86.5" y="120.5" width="13" height="4" fill="#FFE88A" stroke="#000"/><rect x="99.5" y="119.5" width="13" height="5" fill="#C1DCC0" stroke="#000"/><rect x="156.5" y="121.5" width="13" height="3" fill="#C1DCC0" stroke="#000"/><rect x="213.5" y="114.5" width="14" height="10" fill="#C1DCC0" stroke="#000"/><rect x="258.5" y="114.5" width="13" height="10" fill="#FFE88A" stroke="#000"/><rect x="271.5" y="115.5" width="13" height="9" fill="#C1DCC0" stroke="#000"/><rect x="302.5" y="91.5" width="13" height="33" fill="#FFA07A" stroke="#000"/><rect x="328.5" y="115.5" width="13" height="9" fill="#C1DCC0" stroke="#000"/><rect x="360.5" y="43.5" width="13" height="81" fill="#FFA07A" stroke="#000"/><rect x="373.5" y="106.5" width="13" height="18" fill="#FFE88A" stroke="#000"/><rect x="386.5" y="119.5" width="12" height="5" fill="#C1DCC0" stroke="#000"/><rect x="416.5" y="56.5" width="13" height="68" fill="#FFA07A" stroke="#000"/><rect x="429.5" y="115.5" width="13" height="9" fill="#FFE88A" stroke="#000"/></svg>
<div class="t" style="top:365px;font-size:12px;line-height:14px;left:496px;transform:scaleX(0.917);transform-origin:0 0;">май 18</div>
<div class="t" style="top:365px;font-size:12px;line-height:14px;left:608px;transform:scaleX(0.917);transform-origin:0 0;">июнь 18</div>
<div class="t" style="top:365px;font-size:12px;line-height:14px;left:724px;transform:scaleX(0.917);transform-origin:0 0;">авг. 18</div>
<div class="t" style="top:365px;font-size:12px;line-height:14px;left:839px;transform:scaleX(0.917);transform-origin:0 0;">окт. 18</div>
<div class="b" style="left:969px;top:253px;width:931px;height:138px;box-sizing:border-box;border:1px solid #8F8B80;"></div>
<div class="b" style="left:969px;top:237px;width:51px;height:17px;background:#FFFAF0;box-sizing:border-box;border:1px solid #8F8B80;border-bottom:none;"></div>
<div class="b" style="left:1020px;top:238px;width:51px;height:16px;background:#F0ECE2;box-sizing:border-box;border:1px solid #B5B1A6;border-bottom:none;"></div>
<div class="b" style="left:970px;top:253px;width:49px;height:1px;background:#FFFAF0;"></div>
<div class="t" style="top:239px;font-size:12px;line-height:14px;left:974px;transform:scaleX(0.917);transform-origin:0 0;">30 дней</div>
<div class="t" style="top:239px;font-size:12px;line-height:14px;left:1025px;transform:scaleX(0.917);transform-origin:0 0;">90 дней</div>
<div class="b" style="left:975px;top:259px;width:918px;height:1px;background:#FFFFFF;"></div>
<div class="b" style="left:975px;top:259px;width:1px;height:124px;background:#FFFFFF;"></div>
<div class="b" style="left:1892px;top:259px;width:1px;height:124px;background:#FFFFFF;"></div>
<div class="b" style="left:975px;top:382px;width:918px;height:1px;background:#FFFFFF;"></div>
<div class="b" style="left:975px;top:259px;width:1px;height:1px;background:#A8A8A8;"></div>
<div class="b" style="left:1892px;top:259px;width:1px;height:1px;background:#A8A8A8;"></div>
<div class="b" style="left:975px;top:382px;width:1px;height:1px;background:#A8A8A8;"></div>
<div class="b" style="left:1892px;top:382px;width:1px;height:1px;background:#A8A8A8;"></div>
<div class="b" style="left:982px;top:265px;width:14px;height:14px;background:#C1DCC0;box-sizing:border-box;border:1px solid #7D7A6E;"></div>
<div class="t" style="top:265px;font-size:12px;line-height:14px;left:997px;transform:scaleX(0.917);transform-origin:0 0;">В работе</div>
<div class="t" style="top:290px;font-size:12px;line-height:14px;right:924px;transform:scaleX(0.885);transform-origin:100% 0;">30</div>
<div class="t" style="top:304px;font-size:12px;line-height:14px;right:924px;transform:scaleX(0.885);transform-origin:100% 0;">20</div>
<div class="t" style="top:318px;font-size:12px;line-height:14px;right:924px;transform:scaleX(0.885);transform-origin:100% 0;">10</div>
<div class="t" style="top:332px;font-size:12px;line-height:14px;right:924px;transform:scaleX(0.885);transform-origin:100% 0;">0</div>
<svg class="b" style="left:965px;top:285px" width="900" height="70" viewBox="0 0 900 70"><path d="M33.5 5V54" stroke="#A0A0A0"/><path d="M30 5.5H34M30 19.5H34M30 33.5H34M30 47.5H34" stroke="#A0A0A0"/><path d="M33 54.5H868" stroke="#C8C8C8"/><polyline points="33.0,42.5 60.7,42.5 88.4,42.5 116.2,48.8 143.9,51.0 171.6,42.5 199.3,45.5 227.0,46.0 254.8,45.5 282.5,31.8 310.2,47.0 337.9,48.8 365.6,48.0 393.4,52.5 421.1,46.0 448.8,43.8 476.5,52.5 504.2,52.5 532.0,46.0 559.7,50.0 587.4,40.8 615.1,42.5 642.8,40.8 670.6,43.8 698.3,50.0 726.0,50.0 753.7,43.8 781.4,50.0 809.2,50.0 836.9,52.0 864.6,48.8" fill="none" stroke="#B9D9B8" stroke-width="2.5"/><path d="M33.0 38.5L37.0 42.5L33.0 46.5L29.0 42.5Z" fill="#B9D9B8"/><path d="M60.7 38.5L64.7 42.5L60.7 46.5L56.7 42.5Z" fill="#B9D9B8"/><path d="M88.4 38.5L92.4 42.5L88.4 46.5L84.4 42.5Z" fill="#B9D9B8"/><path d="M116.2 44.8L120.2 48.8L116.2 52.8L112.2 48.8Z" fill="#B9D9B8"/><path d="M143.9 47.0L147.9 51.0L143.9 55.0L139.9 51.0Z" fill="#B9D9B8"/><path d="M171.6 38.5L175.6 42.5L171.6 46.5L167.6 42.5Z" fill="#B9D9B8"/><path d="M199.3 41.5L203.3 45.5L199.3 49.5L195.3 45.5Z" fill="#B9D9B8"/><path d="M227.0 42.0L231.0 46.0L227.0 50.0L223.0 46.0Z" fill="#B9D9B8"/><path d="M254.8 41.5L258.8 45.5L254.8 49.5L250.8 45.5Z" fill="#B9D9B8"/><path d="M282.5 27.8L286.5 31.8L282.5 35.8L278.5 31.8Z" fill="#B9D9B8"/><path d="M310.2 43.0L314.2 47.0L310.2 51.0L306.2 47.0Z" fill="#B9D9B8"/><path d="M337.9 44.8L341.9 48.8L337.9 52.8L333.9 48.8Z" fill="#B9D9B8"/><path d="M365.6 44.0L369.6 48.0L365.6 52.0L361.6 48.0Z" fill="#B9D9B8"/><path d="M393.4 48.5L397.4 52.5L393.4 56.5L389.4 52.5Z" fill="#B9D9B8"/><path d="M421.1 42.0L425.1 46.0L421.1 50.0L417.1 46.0Z" fill="#B9D9B8"/><path d="M448.8 39.8L452.8 43.8L448.8 47.8L444.8 43.8Z" fill="#B9D9B8"/><path d="M476.5 48.5L480.5 52.5L476.5 56.5L472.5 52.5Z" fill="#B9D9B8"/><path d="M504.2 48.5L508.2 52.5L504.2 56.5L500.2 52.5Z" fill="#B9D9B8"/><path d="M532.0 42.0L536.0 46.0L532.0 50.0L528.0 46.0Z" fill="#B9D9B8"/><path d="M559.7 46.0L563.7 50.0L559.7 54.0L555.7 50.0Z" fill="#B9D9B8"/><path d="M587.4 36.8L591.4 40.8L587.4 44.8L583.4 40.8Z" fill="#B9D9B8"/><path d="M615.1 38.5L619.1 42.5L615.1 46.5L611.1 42.5Z" fill="#B9D9B8"/><path d="M642.8 36.8L646.8 40.8L642.8 44.8L638.8 40.8Z" fill="#B9D9B8"/><path d="M670.6 39.8L674.6 43.8L670.6 47.8L666.6 43.8Z" fill="#B9D9B8"/><path d="M698.3 46.0L702.3 50.0L698.3 54.0L694.3 50.0Z" fill="#B9D9B8"/><path d="M726.0 46.0L730.0 50.0L726.0 54.0L722.0 50.0Z" fill="#B9D9B8"/><path d="M753.7 39.8L757.7 43.8L753.7 47.8L749.7 43.8Z" fill="#B9D9B8"/><path d="M781.4 46.0L785.4 50.0L781.4 54.0L777.4 50.0Z" fill="#B9D9B8"/><path d="M809.2 46.0L813.2 50.0L809.2 54.0L805.2 50.0Z" fill="#B9D9B8"/><path d="M836.9 48.0L840.9 52.0L836.9 56.0L832.9 52.0Z" fill="#B9D9B8"/><path d="M864.6 44.8L868.6 48.8L864.6 52.8L860.6 48.8Z" fill="#B9D9B8"/><polyline points="33.0,53.0 60.7,53.8 88.4,53.0 116.2,50.0 143.9,53.8 171.6,53.8 199.3,50.0 227.0,53.8 254.8,53.0 282.5,53.0 310.2,50.0 337.9,47.5 365.6,50.0 393.4,49.5 421.1,53.0 448.8,53.8 476.5,49.5 504.2,53.0 532.0,53.0 559.7,52.5 587.4,50.0 615.1,53.0 642.8,50.0 670.6,47.5 698.3,50.0 726.0,43.8 753.7,53.0 781.4,50.0 809.2,53.0 836.9,50.5 864.6,47.0" fill="none" stroke="#8A8478" stroke-width="2.5"/><rect x="29.0" y="49.0" width="8" height="8" fill="#8A8478"/><rect x="56.7" y="49.8" width="8" height="8" fill="#8A8478"/><rect x="84.4" y="49.0" width="8" height="8" fill="#8A8478"/><rect x="112.2" y="46.0" width="8" height="8" fill="#8A8478"/><rect x="139.9" y="49.8" width="8" height="8" fill="#8A8478"/><rect x="167.6" y="49.8" width="8" height="8" fill="#8A8478"/><rect x="195.3" y="46.0" width="8" height="8" fill="#8A8478"/><rect x="223.0" y="49.8" width="8" height="8" fill="#8A8478"/><rect x="250.8" y="49.0" width="8" height="8" fill="#8A8478"/><rect x="278.5" y="49.0" width="8" height="8" fill="#8A8478"/><rect x="306.2" y="46.0" width="8" height="8" fill="#8A8478"/><rect x="333.9" y="43.5" width="8" height="8" fill="#8A8478"/><rect x="361.6" y="46.0" width="8" height="8" fill="#8A8478"/><rect x="389.4" y="45.5" width="8" height="8" fill="#8A8478"/><rect x="417.1" y="49.0" width="8" height="8" fill="#8A8478"/><rect x="444.8" y="49.8" width="8" height="8" fill="#8A8478"/><rect x="472.5" y="45.5" width="8" height="8" fill="#8A8478"/><rect x="500.2" y="49.0" width="8" height="8" fill="#8A8478"/><rect x="528.0" y="49.0" width="8" height="8" fill="#8A8478"/><rect x="555.7" y="48.5" width="8" height="8" fill="#8A8478"/><rect x="583.4" y="46.0" width="8" height="8" fill="#8A8478"/><rect x="611.1" y="49.0" width="8" height="8" fill="#8A8478"/><rect x="638.8" y="46.0" width="8" height="8" fill="#8A8478"/><rect x="666.6" y="43.5" width="8" height="8" fill="#8A8478"/><rect x="694.3" y="46.0" width="8" height="8" fill="#8A8478"/><rect x="722.0" y="39.8" width="8" height="8" fill="#8A8478"/><rect x="749.7" y="49.0" width="8" height="8" fill="#8A8478"/><rect x="777.4" y="46.0" width="8" height="8" fill="#8A8478"/><rect x="805.2" y="49.0" width="8" height="8" fill="#8A8478"/><rect x="832.9" y="46.5" width="8" height="8" fill="#8A8478"/><rect x="860.6" y="43.0" width="8" height="8" fill="#8A8478"/><polyline points="33.0,30.0 60.7,18.8 88.4,33.0 116.2,53.8 143.9,53.8 171.6,15.0 199.3,32.5 227.0,33.8 254.8,32.5 282.5,23.0 310.2,53.8 337.9,53.8 365.6,53.8 393.4,36.8 421.1,17.5 448.8,25.5 476.5,32.0 504.2,53.8 532.0,53.8 559.7,25.5 587.4,26.8 615.1,22.5 642.8,21.2 670.6,29.5 698.3,53.8 726.0,53.8 753.7,31.8 781.4,31.8 809.2,25.5 836.9,35.8 864.6,53.8" fill="none" stroke="#FCE68A" stroke-width="2.5"/><circle cx="33.0" cy="30.0" r="4.2" fill="#FCE68A"/><circle cx="60.7" cy="18.8" r="4.2" fill="#FCE68A"/><circle cx="88.4" cy="33.0" r="4.2" fill="#FCE68A"/><circle cx="116.2" cy="53.8" r="4.2" fill="#FCE68A"/><circle cx="143.9" cy="53.8" r="4.2" fill="#FCE68A"/><circle cx="171.6" cy="15.0" r="4.2" fill="#FCE68A"/><circle cx="199.3" cy="32.5" r="4.2" fill="#FCE68A"/><circle cx="227.0" cy="33.8" r="4.2" fill="#FCE68A"/><circle cx="254.8" cy="32.5" r="4.2" fill="#FCE68A"/><circle cx="282.5" cy="23.0" r="4.2" fill="#FCE68A"/><circle cx="310.2" cy="53.8" r="4.2" fill="#FCE68A"/><circle cx="337.9" cy="53.8" r="4.2" fill="#FCE68A"/><circle cx="365.6" cy="53.8" r="4.2" fill="#FCE68A"/><circle cx="393.4" cy="36.8" r="4.2" fill="#FCE68A"/><circle cx="421.1" cy="17.5" r="4.2" fill="#FCE68A"/><circle cx="448.8" cy="25.5" r="4.2" fill="#FCE68A"/><circle cx="476.5" cy="32.0" r="4.2" fill="#FCE68A"/><circle cx="504.2" cy="53.8" r="4.2" fill="#FCE68A"/><circle cx="532.0" cy="53.8" r="4.2" fill="#FCE68A"/><circle cx="559.7" cy="25.5" r="4.2" fill="#FCE68A"/><circle cx="587.4" cy="26.8" r="4.2" fill="#FCE68A"/><circle cx="615.1" cy="22.5" r="4.2" fill="#FCE68A"/><circle cx="642.8" cy="21.2" r="4.2" fill="#FCE68A"/><circle cx="670.6" cy="29.5" r="4.2" fill="#FCE68A"/><circle cx="698.3" cy="53.8" r="4.2" fill="#FCE68A"/><circle cx="726.0" cy="53.8" r="4.2" fill="#FCE68A"/><circle cx="753.7" cy="31.8" r="4.2" fill="#FCE68A"/><circle cx="781.4" cy="31.8" r="4.2" fill="#FCE68A"/><circle cx="809.2" cy="25.5" r="4.2" fill="#FCE68A"/><circle cx="836.9" cy="35.8" r="4.2" fill="#FCE68A"/><circle cx="864.6" cy="53.8" r="4.2" fill="#FCE68A"/></svg>
<div class="t" style="top:340px;font-size:12px;line-height:14px;left:999px;transform:scaleX(0.917);transform-origin:0 0;">24 окт.</div>
<div class="t" style="top:358px;font-size:12px;line-height:14px;left:1027px;transform:scaleX(0.917);transform-origin:0 0;">25 окт.</div>
<div class="t" style="top:340px;font-size:12px;line-height:14px;left:1054px;transform:scaleX(0.917);transform-origin:0 0;">26 окт.</div>
<div class="t" style="top:358px;font-size:12px;line-height:14px;left:1082px;transform:scaleX(0.917);transform-origin:0 0;">27 окт.</div>
<div class="t" style="top:340px;font-size:12px;line-height:14px;left:1110px;transform:scaleX(0.917);transform-origin:0 0;">28 окт.</div>
<div class="t" style="top:358px;font-size:12px;line-height:14px;left:1138px;transform:scaleX(0.917);transform-origin:0 0;">29 окт.</div>
<div class="t" style="top:340px;font-size:12px;line-height:14px;left:1165px;transform:scaleX(0.917);transform-origin:0 0;">30 окт.</div>
<div class="t" style="top:358px;font-size:12px;line-height:14px;left:1193px;transform:scaleX(0.917);transform-origin:0 0;">31 окт.</div>
<div class="t" style="top:340px;font-size:12px;line-height:14px;left:1221px;transform:scaleX(0.917);transform-origin:0 0;">01 нояб.</div>
<div class="t" style="top:358px;font-size:12px;line-height:14px;left:1248px;transform:scaleX(0.917);transform-origin:0 0;">02 нояб.</div>
<div class="t" style="top:340px;font-size:12px;line-height:14px;left:1276px;transform:scaleX(0.917);transform-origin:0 0;">03 нояб.</div>
<div class="t" style="top:358px;font-size:12px;line-height:14px;left:1304px;transform:scaleX(0.917);transform-origin:0 0;">04 нояб.</div>
<div class="t" style="top:340px;font-size:12px;line-height:14px;left:1332px;transform:scaleX(0.917);transform-origin:0 0;">05 нояб.</div>
<div class="t" style="top:358px;font-size:12px;line-height:14px;left:1359px;transform:scaleX(0.917);transform-origin:0 0;">06 нояб.</div>
<div class="t" style="top:340px;font-size:12px;line-height:14px;left:1387px;transform:scaleX(0.917);transform-origin:0 0;">07 нояб.</div>
<div class="t" style="top:358px;font-size:12px;line-height:14px;left:1415px;transform:scaleX(0.917);transform-origin:0 0;">08 нояб.</div>
<div class="t" style="top:340px;font-size:12px;line-height:14px;left:1443px;transform:scaleX(0.917);transform-origin:0 0;">09 нояб.</div>
<div class="t" style="top:358px;font-size:12px;line-height:14px;left:1470px;transform:scaleX(0.917);transform-origin:0 0;">10 нояб.</div>
<div class="t" style="top:340px;font-size:12px;line-height:14px;left:1498px;transform:scaleX(0.917);transform-origin:0 0;">11 нояб.</div>
<div class="t" style="top:358px;font-size:12px;line-height:14px;left:1526px;transform:scaleX(0.917);transform-origin:0 0;">12 нояб.</div>
<div class="t" style="top:340px;font-size:12px;line-height:14px;left:1553px;transform:scaleX(0.917);transform-origin:0 0;">13 нояб.</div>
<div class="t" style="top:358px;font-size:12px;line-height:14px;left:1581px;transform:scaleX(0.917);transform-origin:0 0;">14 нояб.</div>
<div class="t" style="top:340px;font-size:12px;line-height:14px;left:1609px;transform:scaleX(0.917);transform-origin:0 0;">15 нояб.</div>
<div class="t" style="top:358px;font-size:12px;line-height:14px;left:1637px;transform:scaleX(0.917);transform-origin:0 0;">16 нояб.</div>
<div class="t" style="top:340px;font-size:12px;line-height:14px;left:1664px;transform:scaleX(0.917);transform-origin:0 0;">17 нояб.</div>
<div class="t" style="top:358px;font-size:12px;line-height:14px;left:1692px;transform:scaleX(0.917);transform-origin:0 0;">18 нояб.</div>
<div class="t" style="top:340px;font-size:12px;line-height:14px;left:1720px;transform:scaleX(0.917);transform-origin:0 0;">19 нояб.</div>
<div class="t" style="top:358px;font-size:12px;line-height:14px;left:1747px;transform:scaleX(0.917);transform-origin:0 0;">20 нояб.</div>
<div class="t" style="top:340px;font-size:12px;line-height:14px;left:1775px;transform:scaleX(0.917);transform-origin:0 0;">21 нояб.</div>
<div class="t" style="top:358px;font-size:12px;line-height:14px;left:1803px;transform:scaleX(0.917);transform-origin:0 0;">22 нояб.</div>
<div class="t" style="top:340px;font-size:12px;line-height:14px;left:1831px;transform:scaleX(0.917);transform-origin:0 0;">23 нояб.</div>
<div class="b" style="left:980px;top:587px;width:322px;height:1px;background:#FFFFFF;"></div>
<div class="b" style="left:980px;top:587px;width:1px;height:87px;background:#FFFFFF;"></div>
<div class="b" style="left:1301px;top:587px;width:1px;height:87px;background:#FFFFFF;"></div>
<div class="b" style="left:980px;top:673px;width:322px;height:1px;background:#FFFFFF;"></div>
<div class="b" style="left:980px;top:587px;width:1px;height:1px;background:#A8A8A8;"></div>
<div class="b" style="left:1301px;top:587px;width:1px;height:1px;background:#A8A8A8;"></div>
<div class="b" style="left:980px;top:673px;width:1px;height:1px;background:#A8A8A8;"></div>
<div class="b" style="left:1301px;top:673px;width:1px;height:1px;background:#A8A8A8;"></div>
<svg class="b" style="left:998px;top:591px" width="75" height="75" viewBox="0 0 75 75"><circle cx="37" cy="37" r="36" fill="#C1DCC0" stroke="#000" stroke-width="1.3"/><path d="M37 37V1A36 36 0 0 0 15.4 8.2Z" fill="#FFE88A" stroke="#000" stroke-width="1.3"/></svg>
<div class="b" style="left:1095px;top:604px;width:14px;height:14px;background:#FFA07A;box-sizing:border-box;border:1px solid #7D7A6E;"></div>
<div class="t" style="top:604px;font-size:12px;line-height:14px;left:1110px;transform:scaleX(0.917);transform-origin:0 0;">Нет плана, 1</div>
<div class="b" style="left:1196px;top:604px;width:14px;height:14px;background:#C1DCC0;box-sizing:border-box;border:1px solid #7D7A6E;"></div>
<div class="t" style="top:604px;font-size:12px;line-height:14px;left:1211px;transform:scaleX(0.917);transform-origin:0 0;">Порядок, 386</div>
<div class="b" style="left:1095px;top:642px;width:14px;height:14px;background:#FFE88A;box-sizing:border-box;border:1px solid #7D7A6E;"></div>
<div class="t" style="top:642px;font-size:12px;line-height:14px;left:1110px;transform:scaleX(0.917);transform-origin:0 0;">Просрочено, 44</div>
<div class="b" style="left:1311px;top:587px;width:595px;height:1px;background:#FFFFFF;"></div>
<div class="b" style="left:1311px;top:587px;width:1px;height:87px;background:#FFFFFF;"></div>
<div class="b" style="left:1905px;top:587px;width:1px;height:87px;background:#FFFFFF;"></div>
<div class="b" style="left:1311px;top:673px;width:595px;height:1px;background:#FFFFFF;"></div>
<div class="b" style="left:1311px;top:587px;width:1px;height:1px;background:#A8A8A8;"></div>
<div class="b" style="left:1905px;top:587px;width:1px;height:1px;background:#A8A8A8;"></div>
<div class="b" style="left:1311px;top:673px;width:1px;height:1px;background:#A8A8A8;"></div>
<div class="b" style="left:1905px;top:673px;width:1px;height:1px;background:#A8A8A8;"></div>
<svg class="b" style="left:1320px;top:595px" width="585" height="70" viewBox="0 0 585 70"><path d="M14.5 5V56" stroke="#A8A8A8"/><path d="M14 56.5H578" stroke="#A8A8A8"/><path d="M12 5.5H15" stroke="#A8A8A8"/><path d="M12 18.5H15" stroke="#A8A8A8"/><path d="M12 31.5H15" stroke="#A8A8A8"/><path d="M12 43.5H15" stroke="#A8A8A8"/><path d="M12 56.5H15" stroke="#A8A8A8"/><rect x="18.5" y="47.5" width="7" height="9" fill="#C1DCC0" stroke="#000"/><rect x="38.5" y="44.5" width="7" height="12" fill="#C1DCC0" stroke="#000"/><rect x="58.5" y="39.5" width="8" height="17" fill="#C1DCC0" stroke="#000"/><rect x="78.5" y="39.5" width="8" height="17" fill="#C1DCC0" stroke="#000"/><rect x="99.5" y="40.5" width="7" height="16" fill="#C1DCC0" stroke="#000"/><rect x="119.5" y="34.5" width="7" height="22" fill="#C1DCC0" stroke="#000"/><rect x="140.5" y="40.5" width="7" height="16" fill="#C1DCC0" stroke="#000"/><rect x="160.5" y="36.5" width="7" height="20" fill="#C1DCC0" stroke="#000"/><rect x="180.5" y="30.5" width="7" height="26" fill="#C1DCC0" stroke="#000"/><rect x="187.5" y="53.5" width="7" height="3" fill="#FFE88A" stroke="#000"/><rect x="200.5" y="21.5" width="7" height="35" fill="#C1DCC0" stroke="#000"/><rect x="207.5" y="46.5" width="7" height="10" fill="#FFE88A" stroke="#000"/><rect x="221.5" y="13.5" width="6" height="43" fill="#C1DCC0" stroke="#000"/><rect x="227.5" y="41.5" width="7" height="15" fill="#FFE88A" stroke="#000"/><rect x="241.5" y="30.5" width="7" height="26" fill="#C1DCC0" stroke="#000"/><rect x="248.5" y="11.5" width="6" height="45" fill="#FFE88A" stroke="#000"/><rect x="268.5" y="14.5" width="7" height="42" fill="#FFE88A" stroke="#000"/><rect x="288.5" y="29.5" width="7" height="27" fill="#FFE88A" stroke="#000"/><rect x="308.5" y="29.5" width="7" height="27" fill="#FFE88A" stroke="#000"/><rect x="329.5" y="34.5" width="7" height="22" fill="#FFE88A" stroke="#000"/><rect x="349.5" y="41.5" width="7" height="15" fill="#FFE88A" stroke="#000"/><rect x="370.5" y="44.5" width="6" height="12" fill="#FFE88A" stroke="#000"/><rect x="390.5" y="46.5" width="7" height="10" fill="#FFE88A" stroke="#000"/><rect x="410.5" y="46.5" width="7" height="10" fill="#FFE88A" stroke="#000"/><rect x="431.5" y="49.5" width="6" height="7" fill="#FFE88A" stroke="#000"/><rect x="451.5" y="45.5" width="7" height="11" fill="#FFE88A" stroke="#000"/><rect x="471.5" y="49.5" width="7" height="7" fill="#FFE88A" stroke="#000"/><rect x="492.5" y="53.5" width="6" height="3" fill="#FFE88A" stroke="#000"/><rect x="512.5" y="52.5" width="7" height="4" fill="#FFE88A" stroke="#000"/><rect x="532.5" y="53.5" width="7" height="3" fill="#FFE88A" stroke="#000"/><rect x="552" y="54" width="7" height="2" fill="#000"/><rect x="572" y="54" width="7" height="2" fill="#000"/></svg>
<div class="t" style="top:593px;font-size:12px;line-height:14px;right:588px;transform:scaleX(0.885);transform-origin:100% 0;">80</div>
<div class="t" style="top:606px;font-size:12px;line-height:14px;right:588px;transform:scaleX(0.885);transform-origin:100% 0;">60</div>
<div class="t" style="top:619px;font-size:12px;line-height:14px;right:588px;transform:scaleX(0.885);transform-origin:100% 0;">40</div>
<div class="t" style="top:631px;font-size:12px;line-height:14px;right:588px;transform:scaleX(0.885);transform-origin:100% 0;">20</div>
<div class="t" style="top:644px;font-size:12px;line-height:14px;right:588px;transform:scaleX(0.885);transform-origin:100% 0;">0</div>
<div class="t" style="top:652px;font-size:12px;line-height:14px;left:1336px;transform:scaleX(0.885);transform-origin:0 0;">12.11</div>
<div class="t" style="top:652px;font-size:12px;line-height:14px;left:1376px;transform:scaleX(0.885);transform-origin:0 0;">14.11</div>
<div class="t" style="top:652px;font-size:12px;line-height:14px;left:1416px;transform:scaleX(0.885);transform-origin:0 0;">16.11</div>
<div class="t" style="top:652px;font-size:12px;line-height:14px;left:1457px;transform:scaleX(0.885);transform-origin:0 0;">18.11</div>
<div class="t" style="top:652px;font-size:12px;line-height:14px;left:1497px;transform:scaleX(0.885);transform-origin:0 0;">20.11</div>
<div class="t" style="top:652px;font-size:12px;line-height:14px;left:1538px;transform:scaleX(0.885);transform-origin:0 0;">22.11</div>
<div class="t" style="top:652px;font-size:12px;line-height:14px;left:1578px;transform:scaleX(0.885);transform-origin:0 0;">24.11</div>
<div class="t" style="top:652px;font-size:12px;line-height:14px;left:1618px;transform:scaleX(0.885);transform-origin:0 0;">26.11</div>
<div class="t" style="top:652px;font-size:12px;line-height:14px;left:1659px;transform:scaleX(0.885);transform-origin:0 0;">28.11</div>
<div class="t" style="top:652px;font-size:12px;line-height:14px;left:1699px;transform:scaleX(0.885);transform-origin:0 0;">30.11</div>
<div class="t" style="top:652px;font-size:12px;line-height:14px;left:1740px;transform:scaleX(0.885);transform-origin:0 0;">02.12</div>
<div class="t" style="top:652px;font-size:12px;line-height:14px;left:1780px;transform:scaleX(0.885);transform-origin:0 0;">04.12</div>
<div class="t" style="top:652px;font-size:12px;line-height:14px;left:1820px;transform:scaleX(0.885);transform-origin:0 0;">06.12</div>
<div class="t" style="top:652px;font-size:12px;line-height:14px;left:1861px;transform:scaleX(0.885);transform-origin:0 0;">08.12</div>
<div class="b" style="left:9px;top:404px;width:962px;height:1px;background:#FFFFFF;"></div>
<div class="b" style="left:9px;top:404px;width:1px;height:177px;background:#FFFFFF;"></div>
<div class="b" style="left:970px;top:404px;width:1px;height:177px;background:#FFFFFF;"></div>
<div class="b" style="left:9px;top:580px;width:962px;height:1px;background:#FFFFFF;"></div>
<div class="b" style="left:9px;top:404px;width:1px;height:1px;background:#A8A8A8;"></div>
<div class="b" style="left:970px;top:404px;width:1px;height:1px;background:#A8A8A8;"></div>
<div class="b" style="left:9px;top:580px;width:1px;height:1px;background:#A8A8A8;"></div>
<div class="b" style="left:970px;top:580px;width:1px;height:1px;background:#A8A8A8;"></div>
<div class="b" style="left:980px;top:404px;width:926px;height:1px;background:#FFFFFF;"></div>
<div class="b" style="left:980px;top:404px;width:1px;height:176px;background:#FFFFFF;"></div>
<div class="b" style="left:1905px;top:404px;width:1px;height:176px;background:#FFFFFF;"></div>
<div class="b" style="left:980px;top:579px;width:926px;height:1px;background:#FFFFFF;"></div>
<div class="b" style="left:980px;top:404px;width:1px;height:1px;background:#A8A8A8;"></div>
<div class="b" style="left:1905px;top:404px;width:1px;height:1px;background:#A8A8A8;"></div>
<div class="b" style="left:980px;top:579px;width:1px;height:1px;background:#A8A8A8;"></div>
<div class="b" style="left:1905px;top:579px;width:1px;height:1px;background:#A8A8A8;"></div>
<div class="b" style="left:9px;top:587px;width:965px;height:1px;background:#FFFFFF;"></div>
<div class="b" style="left:9px;top:587px;width:1px;height:202px;background:#FFFFFF;"></div>
<div class="b" style="left:973px;top:587px;width:1px;height:202px;background:#FFFFFF;"></div>
<div class="b" style="left:9px;top:788px;width:965px;height:1px;background:#FFFFFF;"></div>
<div class="b" style="left:9px;top:587px;width:1px;height:1px;background:#A8A8A8;"></div>
<div class="b" style="left:973px;top:587px;width:1px;height:1px;background:#A8A8A8;"></div>
<div class="b" style="left:9px;top:788px;width:1px;height:1px;background:#A8A8A8;"></div>
<div class="b" style="left:973px;top:788px;width:1px;height:1px;background:#A8A8A8;"></div>
<div class="b" style="left:980px;top:678px;width:926px;height:1px;background:#FFFFFF;"></div>
<div class="b" style="left:980px;top:678px;width:1px;height:111px;background:#FFFFFF;"></div>
<div class="b" style="left:1905px;top:678px;width:1px;height:111px;background:#FFFFFF;"></div>
<div class="b" style="left:980px;top:788px;width:926px;height:1px;background:#FFFFFF;"></div>
<div class="b" style="left:980px;top:678px;width:1px;height:1px;background:#A8A8A8;"></div>
<div class="b" style="left:1905px;top:678px;width:1px;height:1px;background:#A8A8A8;"></div>
<div class="b" style="left:980px;top:788px;width:1px;height:1px;background:#A8A8A8;"></div>
<div class="b" style="left:1905px;top:788px;width:1px;height:1px;background:#A8A8A8;"></div>
<div class="b" style="left:9px;top:800px;width:965px;height:1px;background:#FFFFFF;"></div>
<div class="b" style="left:9px;top:800px;width:1px;height:167px;background:#FFFFFF;"></div>
<div class="b" style="left:973px;top:800px;width:1px;height:167px;background:#FFFFFF;"></div>
<div class="b" style="left:9px;top:966px;width:965px;height:1px;background:#FFFFFF;"></div>
<div class="b" style="left:9px;top:800px;width:1px;height:1px;background:#A8A8A8;"></div>
<div class="b" style="left:973px;top:800px;width:1px;height:1px;background:#A8A8A8;"></div>
<div class="b" style="left:9px;top:966px;width:1px;height:1px;background:#A8A8A8;"></div>
<div class="b" style="left:973px;top:966px;width:1px;height:1px;background:#A8A8A8;"></div>
<div class="b" style="left:980px;top:800px;width:926px;height:1px;background:#FFFFFF;"></div>
<div class="b" style="left:980px;top:800px;width:1px;height:167px;background:#FFFFFF;"></div>
<div class="b" style="left:1905px;top:800px;width:1px;height:167px;background:#FFFFFF;"></div>
<div class="b" style="left:980px;top:966px;width:926px;height:1px;background:#FFFFFF;"></div>
<div class="b" style="left:980px;top:800px;width:1px;height:1px;background:#A8A8A8;"></div>
<div class="b" style="left:1905px;top:800px;width:1px;height:1px;background:#A8A8A8;"></div>
<div class="b" style="left:980px;top:966px;width:1px;height:1px;background:#A8A8A8;"></div>
<div class="b" style="left:1905px;top:966px;width:1px;height:1px;background:#A8A8A8;"></div>
<div class="b" style="left:13px;top:408px;width:953px;height:167px;background:#FFFFFF;"></div>
<div class="b" style="left:14px;top:409px;width:937px;height:14px;background:#ECE7DF;"></div>
<div class="b" style="left:14px;top:409px;width:359px;height:14px;background:#C9C1B5;"></div>
<div class="t" style="left:15px;top:409px;width:357px;height:14px;overflow:hidden"><div class="c" style="left:0;top:0;transform-origin:0 0">Контрагент</div></div>
<div class="t" style="left:375px;top:409px;width:141px;height:14px;overflow:hidden"><div class="c" style="left:0;top:0;transform-origin:0 0">Тек. коммерческие</div></div>
<div class="t" style="left:519px;top:409px;width:141px;height:14px;overflow:hidden"><div class="c" style="left:0;top:0;transform-origin:0 0">Тек. в работе</div></div>
<div class="t" style="left:663px;top:409px;width:141px;height:14px;overflow:hidden"><div class="c" style="left:0;top:0;transform-origin:0 0">+ Комм, за 30 дн.</div></div>
<div class="t" style="left:807px;top:409px;width:143px;height:14px;overflow:hidden"><div class="c" style="left:0;top:0;transform-origin:0 0">+ В работу за 30 дн.</div></div>
<div class="b" style="left:13px;top:423px;width:938px;height:1px;background:#847F73;"></div>
<div class="b" style="left:14px;top:424px;width:359px;height:17px;background:#E8FFFF;"></div>
<div class="b" style="left:374px;top:424px;width:143px;height:17px;background:#FEEBCF;"></div>
<div class="b" style="left:518px;top:424px;width:143px;height:17px;background:#F0FFFF;"></div>
<div class="t" style="left:19px;top:424px;width:353px;height:17px;overflow:hidden"><div class="c" style="left:0;transform-origin:0 0;transform:scaleX(0.917);">АВЕРС</div></div>
<div class="t" style="left:373px;top:424px;width:143px;height:17px;overflow:hidden;text-align:right"><div class="c" style="right:0;transform-origin:100% 0;transform:scaleX(0.885);">69 521 481</div></div>
<div class="t" style="left:517px;top:424px;width:143px;height:17px;overflow:hidden;text-align:right"><div class="c" style="right:0;transform-origin:100% 0;transform:scaleX(0.885);">34 288 953</div></div>
<div class="t" style="left:661px;top:424px;width:143px;height:17px;overflow:hidden;text-align:right"><div class="c" style="right:0;transform-origin:100% 0;transform:scaleX(0.885);">42 617 677</div></div>
<div class="t" style="left:805px;top:424px;width:145px;height:17px;overflow:hidden;text-align:right"><div class="c" style="right:0;transform-origin:100% 0;transform:scaleX(0.885);">3 986 748</div></div>
<div class="b" style="left:13px;top:441px;width:938px;height:1px;background:#8E887C;"></div>
<div class="b" style="left:374px;top:442px;width:143px;height:17px;background:#FEEBCF;"></div>
<div class="b" style="left:518px;top:442px;width:143px;height:17px;background:#F0FFFF;"></div>
<div class="t" style="left:19px;top:442px;width:353px;height:17px;overflow:hidden"><div class="c" style="left:0;transform-origin:0 0;transform:scaleX(0.917);">Авик - продажа спецтехники и запчастей в одном месте</div></div>
<div class="t" style="left:373px;top:442px;width:143px;height:17px;overflow:hidden;text-align:right"><div class="c" style="right:0;transform-origin:100% 0;transform:scaleX(0.885);">1 624 931</div></div>
<div class="t" style="left:517px;top:442px;width:143px;height:17px;overflow:hidden;text-align:right"><div class="c" style="right:0;transform-origin:100% 0;transform:scaleX(0.885);">1 402 175</div></div>
<div class="t" style="left:661px;top:442px;width:143px;height:17px;overflow:hidden;text-align:right"><div class="c" style="right:0;transform-origin:100% 0;transform:scaleX(0.885);">30 400 163</div></div>
<div class="t" style="left:805px;top:442px;width:145px;height:17px;overflow:hidden;text-align:right"><div class="c" style="right:0;transform-origin:100% 0;transform:scaleX(0.885);">104 658</div></div>
<div class="b" style="left:13px;top:459px;width:938px;height:1px;background:#8E887C;"></div>
<div class="b" style="left:374px;top:460px;width:143px;height:17px;background:#FEEBCF;"></div>
<div class="b" style="left:518px;top:460px;width:143px;height:17px;background:#F0FFFF;"></div>
<div class="t" style="left:19px;top:460px;width:353px;height:17px;overflow:hidden"><div class="c" style="left:0;transform-origin:0 0;transform:scaleX(0.917);">АВТОИМПОРТ</div></div>
<div class="t" style="left:373px;top:460px;width:143px;height:17px;overflow:hidden;text-align:right"><div class="c" style="right:0;transform-origin:100% 0;transform:scaleX(0.885);">10 504 780</div></div>
<div class="t" style="left:661px;top:460px;width:143px;height:17px;overflow:hidden;text-align:right"><div class="c" style="right:0;transform-origin:100% 0;transform:scaleX(0.885);">18 063 582</div></div>
<div class="b" style="left:13px;top:477px;width:938px;height:1px;background:#8E887C;"></div>
<div class="b" style="left:374px;top:478px;width:143px;height:17px;background:#FEEBCF;"></div>
<div class="b" style="left:518px;top:478px;width:143px;height:17px;background:#F0FFFF;"></div>
<div class="t" style="left:19px;top:478px;width:353px;height:17px;overflow:hidden"><div class="c" style="left:0;transform-origin:0 0;transform:scaleX(0.917);">ру</div></div>
<div class="t" style="left:373px;top:478px;width:143px;height:17px;overflow:hidden;text-align:right"><div class="c" style="right:0;transform-origin:100% 0;transform:scaleX(0.885);">15 244 747</div></div>
<div class="t" style="left:517px;top:478px;width:143px;height:17px;overflow:hidden;text-align:right"><div class="c" style="right:0;transform-origin:100% 0;transform:scaleX(0.885);">229 626</div></div>
<div class="t" style="left:661px;top:478px;width:143px;height:17px;overflow:hidden;text-align:right"><div class="c" style="right:0;transform-origin:100% 0;transform:scaleX(0.885);">14 031 849</div></div>
<div class="t" style="left:805px;top:478px;width:145px;height:17px;overflow:hidden;text-align:right"><div class="c" style="right:0;transform-origin:100% 0;transform:scaleX(0.885);">151 231</div></div>
<div class="b" style="left:13px;top:495px;width:938px;height:1px;background:#8E887C;"></div>
<div class="b" style="left:374px;top:496px;width:143px;height:17px;background:#FEEBCF;"></div>
<div class="b" style="left:518px;top:496px;width:143px;height:17px;background:#F0FFFF;"></div>
<div class="t" style="left:19px;top:496px;width:353px;height:17px;overflow:hidden"><div class="c" style="left:0;transform-origin:0 0;transform:scaleX(0.917);">АВЕНЮ</div></div>
<div class="t" style="left:373px;top:496px;width:143px;height:17px;overflow:hidden;text-align:right"><div class="c" style="right:0;transform-origin:100% 0;transform:scaleX(0.885);">12 366 241</div></div>
<div class="t" style="left:517px;top:496px;width:143px;height:17px;overflow:hidden;text-align:right"><div class="c" style="right:0;transform-origin:100% 0;transform:scaleX(0.885);">3 024 971</div></div>
<div class="t" style="left:661px;top:496px;width:143px;height:17px;overflow:hidden;text-align:right"><div class="c" style="right:0;transform-origin:100% 0;transform:scaleX(0.885);">7 793 801</div></div>
<div class="b" style="left:13px;top:513px;width:938px;height:1px;background:#8E887C;"></div>
<div class="b" style="left:374px;top:514px;width:143px;height:17px;background:#FEEBCF;"></div>
<div class="b" style="left:518px;top:514px;width:143px;height:17px;background:#F0FFFF;"></div>
<div class="t" style="left:19px;top:514px;width:353px;height:17px;overflow:hidden"><div class="c" style="left:0;transform-origin:0 0;transform:scaleX(0.917);">Автосокол</div></div>
<div class="t" style="left:373px;top:514px;width:143px;height:17px;overflow:hidden;text-align:right"><div class="c" style="right:0;transform-origin:100% 0;transform:scaleX(0.885);">55 475</div></div>
<div class="t" style="left:517px;top:514px;width:143px;height:17px;overflow:hidden;text-align:right"><div class="c" style="right:0;transform-origin:100% 0;transform:scaleX(0.885);">50 090</div></div>
<div class="t" style="left:661px;top:514px;width:143px;height:17px;overflow:hidden;text-align:right"><div class="c" style="right:0;transform-origin:100% 0;transform:scaleX(0.885);">6 091 757</div></div>
<div class="t" style="left:805px;top:514px;width:145px;height:17px;overflow:hidden;text-align:right"><div class="c" style="right:0;transform-origin:100% 0;transform:scaleX(0.885);">6 646</div></div>
<div class="b" style="left:13px;top:531px;width:938px;height:1px;background:#8E887C;"></div>
<div class="b" style="left:374px;top:532px;width:143px;height:17px;background:#FEEBCF;"></div>
<div class="b" style="left:518px;top:532px;width:143px;height:17px;background:#F0FFFF;"></div>
<div class="t" style="left:19px;top:532px;width:353px;height:17px;overflow:hidden"><div class="c" style="left:0;transform-origin:0 0;transform:scaleX(0.917);">Автопартнертранс</div></div>
<div class="t" style="left:373px;top:532px;width:143px;height:17px;overflow:hidden;text-align:right"><div class="c" style="right:0;transform-origin:100% 0;transform:scaleX(0.885);">3 570 300</div></div>
<div class="t" style="left:517px;top:532px;width:143px;height:17px;overflow:hidden;text-align:right"><div class="c" style="right:0;transform-origin:100% 0;transform:scaleX(0.885);">67 998</div></div>
<div class="t" style="left:661px;top:532px;width:143px;height:17px;overflow:hidden;text-align:right"><div class="c" style="right:0;transform-origin:100% 0;transform:scaleX(0.885);">3 570 300</div></div>
<div class="t" style="left:805px;top:532px;width:145px;height:17px;overflow:hidden;text-align:right"><div class="c" style="right:0;transform-origin:100% 0;transform:scaleX(0.885);">17 783</div></div>
<div class="b" style="left:13px;top:549px;width:938px;height:1px;background:#8E887C;"></div>
<div class="b" style="left:374px;top:550px;width:143px;height:9px;background:#FEEBCF;"></div>
<div class="b" style="left:518px;top:550px;width:143px;height:9px;background:#F0FFFF;"></div>
<div class="t" style="left:19px;top:550px;width:353px;height:9px;overflow:hidden"><div class="c" style="left:0;transform-origin:0 0;transform:scaleX(0.917);">Автолокатор</div></div>
<div class="t" style="left:373px;top:550px;width:143px;height:9px;overflow:hidden;text-align:right"><div class="c" style="right:0;transform-origin:100% 0;transform:scaleX(0.885);">3 087 415</div></div>
<div class="t" style="left:517px;top:550px;width:143px;height:9px;overflow:hidden;text-align:right"><div class="c" style="right:0;transform-origin:100% 0;transform:scaleX(0.885);">1 477 128</div></div>
<div class="t" style="left:661px;top:550px;width:143px;height:9px;overflow:hidden;text-align:right"><div class="c" style="right:0;transform-origin:100% 0;transform:scaleX(0.885);">2 557 948</div></div>
<div class="t" style="left:805px;top:550px;width:145px;height:9px;overflow:hidden;text-align:right"><div class="c" style="right:0;transform-origin:100% 0;transform:scaleX(0.885);">746 815</div></div>
<div class="b" style="left:373px;top:409px;width:1px;height:165px;background:#8E887C;"></div>
<div class="b" style="left:517px;top:409px;width:1px;height:165px;background:#8E887C;"></div>
<div class="b" style="left:661px;top:409px;width:1px;height:165px;background:#8E887C;"></div>
<div class="b" style="left:805px;top:409px;width:1px;height:165px;background:#8E887C;"></div>
<div class="b" style="left:13px;top:559px;width:938px;height:1px;background:#847F73;"></div>
<div class="b" style="left:14px;top:560px;width:937px;height:14px;background:#ECE7DF;"></div>
<div class="b" style="left:373px;top:559px;width:1px;height:15px;background:#8E887C;"></div>
<div class="b" style="left:517px;top:559px;width:1px;height:15px;background:#8E887C;"></div>
<div class="b" style="left:661px;top:559px;width:1px;height:15px;background:#8E887C;"></div>
<div class="b" style="left:805px;top:559px;width:1px;height:15px;background:#8E887C;"></div>
<div class="t" style="top:560px;font-size:12px;line-height:14px;right:1404px;transform:scaleX(0.885);transform-origin:100% 0;">164 973 071</div>
<div class="t" style="top:560px;font-size:12px;line-height:14px;right:1260px;transform:scaleX(0.885);transform-origin:100% 0;">74 789 672</div>
<div class="t" style="top:560px;font-size:12px;line-height:14px;right:1116px;transform:scaleX(0.885);transform-origin:100% 0;">145 587 380</div>
<div class="t" style="top:560px;font-size:12px;line-height:14px;right:970px;transform:scaleX(0.885);transform-origin:100% 0;">9 237 766</div>
<div class="b" style="left:13px;top:408px;width:953px;height:167px;box-sizing:border-box;border:1px solid #847F73;"></div>
<div class="b" style="left:951px;top:409px;width:14px;height:165px;background:#FBFAF6;"></div>
<div class="b" style="left:953px;top:410px;width:11px;height:11px;background:#E6E1D6;box-sizing:border-box;border:1px solid #CFCABE;"></div>
<svg class="b" style="left:955px;top:413px" width="8" height="5" viewBox="0 0 8 5"><path d="M0.8 4.2L3.8 1.2L6.8 4.2" stroke="#4A4A4A" stroke-width="1.6" fill="none"/></svg>
<div class="b" style="left:953px;top:562px;width:11px;height:11px;background:#E6E1D6;box-sizing:border-box;border:1px solid #CFCABE;"></div>
<svg class="b" style="left:955px;top:565px" width="8" height="5" viewBox="0 0 8 5"><path d="M0.8 0.8L3.8 3.8L6.8 0.8" stroke="#4A4A4A" stroke-width="1.6" fill="none"/></svg>
<div class="b" style="left:953px;top:422px;width:11px;height:11px;background:#E6E1D6;box-sizing:border-box;border:1px solid #CFCABE;"></div>
<div class="b" style="left:984px;top:408px;width:917px;height:167px;background:#FFFFFF;"></div>
<div class="b" style="left:985px;top:409px;width:915px;height:14px;background:#ECE7DF;"></div>
<div class="b" style="left:985px;top:409px;width:285px;height:14px;background:#C9C1B5;"></div>
<div class="t" style="left:986px;top:409px;width:283px;height:14px;overflow:hidden"><div class="c" style="left:0;top:0;transform-origin:0 0">Ответственный</div></div>
<div class="t" style="left:1272px;top:409px;width:111px;height:14px;overflow:hidden"><div class="c" style="left:0;top:0;transform-origin:0 0">Тек. коммерческие</div></div>
<div class="t" style="left:1386px;top:409px;width:111px;height:14px;overflow:hidden"><div class="c" style="left:0;top:0;transform-origin:0 0">Тек. в работе</div></div>
<div class="t" style="left:1500px;top:409px;width:111px;height:14px;overflow:hidden"><div class="c" style="left:0;top:0;transform-origin:0 0">За период коммерче…</div></div>
<div class="t" style="left:1614px;top:409px;width:83px;height:14px;overflow:hidden"><div class="c" style="left:0;top:0;transform-origin:0 0"></div></div>
<div class="t" style="left:1700px;top:409px;width:111px;height:14px;overflow:hidden"><div class="c" style="left:0;top:0;transform-origin:0 0">За период в работу</div></div>
<div class="t" style="left:1814px;top:409px;width:85px;height:14px;overflow:hidden"><div class="c" style="left:0;top:0;transform-origin:0 0"></div></div>
<div class="b" style="left:984px;top:423px;width:916px;height:1px;background:#847F73;"></div>
<div class="b" style="left:985px;top:424px;width:285px;height:17px;background:#E8FFFF;"></div>
<div class="b" style="left:1271px;top:424px;width:113px;height:17px;background:#FEEBCF;"></div>
<div class="b" style="left:1385px;top:424px;width:113px;height:17px;background:#F0FFFF;"></div>
<div class="t" style="left:990px;top:424px;width:279px;height:17px;overflow:hidden"><div class="c" style="left:0;transform-origin:0 0;transform:scaleX(0.917);">Куджиашвили Юрий</div></div>
<div class="t" style="left:1270px;top:424px;width:113px;height:17px;overflow:hidden;text-align:right"><div class="c" style="right:0;transform-origin:100% 0;transform:scaleX(0.885);">91 825 715</div></div>
<div class="t" style="left:1384px;top:424px;width:113px;height:17px;overflow:hidden;text-align:right"><div class="c" style="right:0;transform-origin:100% 0;transform:scaleX(0.885);">17 010 035</div></div>
<div class="t" style="left:1498px;top:424px;width:113px;height:17px;overflow:hidden;text-align:right"><div class="c" style="right:0;transform-origin:100% 0;transform:scaleX(0.885);">96 683 236</div></div>
<div class="t" style="left:1612px;top:424px;width:85px;height:17px;overflow:hidden;text-align:right"><div class="c" style="right:0;transform-origin:100% 0;transform:scaleX(0.885);color:#2A8F2A">94%</div></div>
<div class="t" style="left:1698px;top:424px;width:113px;height:17px;overflow:hidden;text-align:right"><div class="c" style="right:0;transform-origin:100% 0;transform:scaleX(0.885);">2 320 322</div></div>
<div class="t" style="left:1812px;top:424px;width:87px;height:17px;overflow:hidden;text-align:right"><div class="c" style="right:0;transform-origin:100% 0;transform:scaleX(0.885);color:#E4186A">-35%</div></div>
<div class="b" style="left:984px;top:441px;width:916px;height:1px;background:#8E887C;"></div>
<div class="b" style="left:1271px;top:442px;width:113px;height:17px;background:#FEEBCF;"></div>
<div class="b" style="left:1385px;top:442px;width:113px;height:17px;background:#F0FFFF;"></div>
<div class="t" style="left:990px;top:442px;width:279px;height:17px;overflow:hidden"><div class="c" style="left:0;transform-origin:0 0;transform:scaleX(0.917);">Гуськов Казимир</div></div>
<div class="t" style="left:1270px;top:442px;width:113px;height:17px;overflow:hidden;text-align:right"><div class="c" style="right:0;transform-origin:100% 0;transform:scaleX(0.885);">23 293 694</div></div>
<div class="t" style="left:1384px;top:442px;width:113px;height:17px;overflow:hidden;text-align:right"><div class="c" style="right:0;transform-origin:100% 0;transform:scaleX(0.885);">37 441 032</div></div>
<div class="t" style="left:1498px;top:442px;width:113px;height:17px;overflow:hidden;text-align:right"><div class="c" style="right:0;transform-origin:100% 0;transform:scaleX(0.885);">19 113 941</div></div>
<div class="t" style="left:1612px;top:442px;width:85px;height:17px;overflow:hidden;text-align:right"><div class="c" style="right:0;transform-origin:100% 0;transform:scaleX(0.885);color:#E4186A">-19%</div></div>
<div class="t" style="left:1698px;top:442px;width:113px;height:17px;overflow:hidden;text-align:right"><div class="c" style="right:0;transform-origin:100% 0;transform:scaleX(0.885);">4 065 031</div></div>
<div class="t" style="left:1812px;top:442px;width:87px;height:17px;overflow:hidden;text-align:right"><div class="c" style="right:0;transform-origin:100% 0;transform:scaleX(0.885);color:#E4186A">-13%</div></div>
<div class="b" style="left:984px;top:459px;width:916px;height:1px;background:#8E887C;"></div>
<div class="b" style="left:1271px;top:460px;width:113px;height:17px;background:#FEEBCF;"></div>
<div class="b" style="left:1385px;top:460px;width:113px;height:17px;background:#F0FFFF;"></div>
<div class="t" style="left:990px;top:460px;width:279px;height:17px;overflow:hidden"><div class="c" style="left:0;transform-origin:0 0;transform:scaleX(0.917);">Рамазанов Агап</div></div>
<div class="t" style="left:1270px;top:460px;width:113px;height:17px;overflow:hidden;text-align:right"><div class="c" style="right:0;transform-origin:100% 0;transform:scaleX(0.885);">32 268 647</div></div>
<div class="t" style="left:1384px;top:460px;width:113px;height:17px;overflow:hidden;text-align:right"><div class="c" style="right:0;transform-origin:100% 0;transform:scaleX(0.885);">17 328 539</div></div>
<div class="t" style="left:1498px;top:460px;width:113px;height:17px;overflow:hidden;text-align:right"><div class="c" style="right:0;transform-origin:100% 0;transform:scaleX(0.885);">17 873 992</div></div>
<div class="t" style="left:1612px;top:460px;width:85px;height:17px;overflow:hidden;text-align:right"><div class="c" style="right:0;transform-origin:100% 0;transform:scaleX(0.885);color:#2A8F2A">34%</div></div>
<div class="t" style="left:1698px;top:460px;width:113px;height:17px;overflow:hidden;text-align:right"><div class="c" style="right:0;transform-origin:100% 0;transform:scaleX(0.885);">1 861 514</div></div>
<div class="t" style="left:1812px;top:460px;width:87px;height:17px;overflow:hidden;text-align:right"><div class="c" style="right:0;transform-origin:100% 0;transform:scaleX(0.885);color:#E4186A">-41%</div></div>
<div class="b" style="left:984px;top:477px;width:916px;height:1px;background:#8E887C;"></div>
<div class="b" style="left:1271px;top:478px;width:113px;height:17px;background:#FEEBCF;"></div>
<div class="b" style="left:1385px;top:478px;width:113px;height:17px;background:#F0FFFF;"></div>
<div class="t" style="left:990px;top:478px;width:279px;height:17px;overflow:hidden"><div class="c" style="left:0;transform-origin:0 0;transform:scaleX(0.917);">Щедров Поликарп</div></div>
<div class="t" style="left:1270px;top:478px;width:113px;height:17px;overflow:hidden;text-align:right"><div class="c" style="right:0;transform-origin:100% 0;transform:scaleX(0.885);">11 569 775</div></div>
<div class="t" style="left:1384px;top:478px;width:113px;height:17px;overflow:hidden;text-align:right"><div class="c" style="right:0;transform-origin:100% 0;transform:scaleX(0.885);">2 050 672</div></div>
<div class="t" style="left:1498px;top:478px;width:113px;height:17px;overflow:hidden;text-align:right"><div class="c" style="right:0;transform-origin:100% 0;transform:scaleX(0.885);">8 216 376</div></div>
<div class="t" style="left:1612px;top:478px;width:85px;height:17px;overflow:hidden;text-align:right"><div class="c" style="right:0;transform-origin:100% 0;transform:scaleX(0.885);color:#2A8F2A">55%</div></div>
<div class="t" style="left:1698px;top:478px;width:113px;height:17px;overflow:hidden;text-align:right"><div class="c" style="right:0;transform-origin:100% 0;transform:scaleX(0.885);">962 231</div></div>
<div class="t" style="left:1812px;top:478px;width:87px;height:17px;overflow:hidden;text-align:right"><div class="c" style="right:0;transform-origin:100% 0;transform:scaleX(0.885);color:#2A8F2A">53%</div></div>
<div class="b" style="left:984px;top:495px;width:916px;height:1px;background:#8E887C;"></div>
<div class="b" style="left:1271px;top:496px;width:113px;height:17px;background:#FEEBCF;"></div>
<div class="b" style="left:1385px;top:496px;width:113px;height:17px;background:#F0FFFF;"></div>
<div class="t" style="left:990px;top:496px;width:279px;height:17px;overflow:hidden"><div class="c" style="left:0;transform-origin:0 0;transform:scaleX(0.917);">Зарубина Пелагея</div></div>
<div class="t" style="left:1270px;top:496px;width:113px;height:17px;overflow:hidden;text-align:right"><div class="c" style="right:0;transform-origin:100% 0;transform:scaleX(0.885);">6 015 241</div></div>
<div class="t" style="left:1498px;top:496px;width:113px;height:17px;overflow:hidden;text-align:right"><div class="c" style="right:0;transform-origin:100% 0;transform:scaleX(0.885);">3 671 167</div></div>
<div class="t" style="left:1612px;top:496px;width:85px;height:17px;overflow:hidden;text-align:right"><div class="c" style="right:0;transform-origin:100% 0;transform:scaleX(0.885);color:#E4186A">-17%</div></div>
<div class="t" style="left:1812px;top:496px;width:87px;height:17px;overflow:hidden;text-align:right"><div class="c" style="right:0;transform-origin:100% 0;transform:scaleX(0.885);color:#E4186A">-100%</div></div>
<div class="b" style="left:984px;top:513px;width:916px;height:1px;background:#8E887C;"></div>
<div class="b" style="left:1271px;top:514px;width:113px;height:17px;background:#FEEBCF;"></div>
<div class="b" style="left:1385px;top:514px;width:113px;height:17px;background:#F0FFFF;"></div>
<div class="t" style="left:990px;top:514px;width:279px;height:17px;overflow:hidden"><div class="c" style="left:0;transform-origin:0 0;transform:scaleX(0.917);">Колотушкин Егор</div></div>
<div class="t" style="left:1384px;top:514px;width:113px;height:17px;overflow:hidden;text-align:right"><div class="c" style="right:0;transform-origin:100% 0;transform:scaleX(0.885);">959 395</div></div>
<div class="t" style="left:1498px;top:514px;width:113px;height:17px;overflow:hidden;text-align:right"><div class="c" style="right:0;transform-origin:100% 0;transform:scaleX(0.885);">28 670</div></div>
<div class="t" style="left:1612px;top:514px;width:85px;height:17px;overflow:hidden;text-align:right"><div class="c" style="right:0;transform-origin:100% 0;transform:scaleX(0.885);color:#2A8F2A">100%</div></div>
<div class="t" style="left:1698px;top:514px;width:113px;height:17px;overflow:hidden;text-align:right"><div class="c" style="right:0;transform-origin:100% 0;transform:scaleX(0.885);">28 670</div></div>
<div class="t" style="left:1812px;top:514px;width:87px;height:17px;overflow:hidden;text-align:right"><div class="c" style="right:0;transform-origin:100% 0;transform:scaleX(0.885);color:#2A8F2A">100%</div></div>
<div class="b" style="left:984px;top:531px;width:916px;height:1px;background:#8E887C;"></div>
<div class="b" style="left:1271px;top:532px;width:113px;height:17px;background:#FEEBCF;"></div>
<div class="b" style="left:1385px;top:532px;width:113px;height:17px;background:#F0FFFF;"></div>
<div class="t" style="left:990px;top:532px;width:279px;height:17px;overflow:hidden"><div class="c" style="left:0;transform-origin:0 0;transform:scaleX(0.917);">Яшина Юнона</div></div>
<div class="t" style="left:1612px;top:532px;width:85px;height:17px;overflow:hidden;text-align:right"><div class="c" style="right:0;transform-origin:100% 0;transform:scaleX(0.885);color:#E4186A">-100%</div></div>
<div class="t" style="left:1812px;top:532px;width:87px;height:17px;overflow:hidden;text-align:right"><div class="c" style="right:0;transform-origin:100% 0;transform:scaleX(0.885);color:#E4186A">-100%</div></div>
<div class="b" style="left:984px;top:549px;width:916px;height:1px;background:#8E887C;"></div>
<div class="b" style="left:1270px;top:409px;width:1px;height:141px;background:#8E887C;"></div>
<div class="b" style="left:1384px;top:409px;width:1px;height:141px;background:#8E887C;"></div>
<div class="b" style="left:1498px;top:409px;width:1px;height:141px;background:#8E887C;"></div>
<div class="b" style="left:1612px;top:409px;width:1px;height:141px;background:#8E887C;"></div>
<div class="b" style="left:1698px;top:409px;width:1px;height:141px;background:#8E887C;"></div>
<div class="b" style="left:1812px;top:409px;width:1px;height:141px;background:#8E887C;"></div>
<div class="b" style="left:984px;top:408px;width:917px;height:167px;box-sizing:border-box;border:1px solid #847F73;"></div>
<div class="b" style="left:13px;top:591px;width:956px;height:193px;background:#FFFFFF;"></div>
<div class="b" style="left:14px;top:592px;width:940px;height:14px;background:#ECE7DF;"></div>
<div class="b" style="left:14px;top:592px;width:102px;height:14px;background:#C9C1B5;"></div>
<div class="t" style="left:15px;top:592px;width:100px;height:14px;overflow:hidden"><div class="c" style="left:0;top:0;transform-origin:0 0">Дата</div></div>
<div class="t" style="left:118px;top:592px;width:126px;height:14px;overflow:hidden"><div class="c" style="left:0;top:0;transform-origin:0 0">Номер</div></div>
<div class="t" style="left:247px;top:592px;width:169px;height:14px;overflow:hidden"><div class="c" style="left:0;top:0;transform-origin:0 0">Статус заказа</div></div>
<div class="t" style="left:419px;top:592px;width:213px;height:14px;overflow:hidden"><div class="c" style="left:0;top:0;transform-origin:0 0">Контрагент</div></div>
<div class="t" style="left:635px;top:592px;width:213px;height:14px;overflow:hidden"><div class="c" style="left:0;top:0;transform-origin:0 0">Ответственный</div></div>
<div class="t" style="left:851px;top:592px;width:102px;height:14px;overflow:hidden"><div class="c" style="left:0;top:0;transform-origin:0 0">СуммаДокумента</div></div>
<div class="b" style="left:13px;top:606px;width:941px;height:1px;background:#847F73;"></div>
<div class="b" style="left:14px;top:607px;width:102px;height:17px;background:#E8FFFF;"></div>
<div class="t" style="left:19px;top:607px;width:96px;height:17px;overflow:hidden"><div class="c" style="left:0;transform-origin:0 0;transform:scaleX(0.885);">03.03.08</div></div>
<div class="t" style="left:122px;top:607px;width:122px;height:17px;overflow:hidden"><div class="c" style="left:0;transform-origin:0 0;transform:scaleX(0.917);">ПЭ000000168</div></div>
<div class="t" style="left:251px;top:607px;width:165px;height:17px;overflow:hidden"><div class="c" style="left:0;transform-origin:0 0;transform:scaleX(0.917);">В работе</div></div>
<div class="t" style="left:423px;top:607px;width:209px;height:17px;overflow:hidden"><div class="c" style="left:0;transform-origin:0 0;transform:scaleX(0.917);">АВТОРЕГИОН</div></div>
<div class="t" style="left:639px;top:607px;width:209px;height:17px;overflow:hidden"><div class="c" style="left:0;transform-origin:0 0;transform:scaleX(0.917);">Куджиашвили Юрий</div></div>
<div class="t" style="left:849px;top:607px;width:104px;height:17px;overflow:hidden;text-align:right"><div class="c" style="right:0;transform-origin:100% 0;transform:scaleX(0.885);">1 335 167</div></div>
<div class="b" style="left:13px;top:624px;width:941px;height:1px;background:#8E887C;"></div>
<div class="t" style="left:19px;top:625px;width:96px;height:17px;overflow:hidden"><div class="c" style="left:0;transform-origin:0 0;transform:scaleX(0.885);">15.03.10</div></div>
<div class="t" style="left:122px;top:625px;width:122px;height:17px;overflow:hidden"><div class="c" style="left:0;transform-origin:0 0;transform:scaleX(0.917);">СТ000000223</div></div>
<div class="t" style="left:251px;top:625px;width:165px;height:17px;overflow:hidden"><div class="c" style="left:0;transform-origin:0 0;transform:scaleX(0.917);">В работе</div></div>
<div class="t" style="left:423px;top:625px;width:209px;height:17px;overflow:hidden"><div class="c" style="left:0;transform-origin:0 0;transform:scaleX(0.917);">АЗИМУТ</div></div>
<div class="t" style="left:639px;top:625px;width:209px;height:17px;overflow:hidden"><div class="c" style="left:0;transform-origin:0 0;transform:scaleX(0.917);">Куджиашвили Юрий</div></div>
<div class="t" style="left:849px;top:625px;width:104px;height:17px;overflow:hidden;text-align:right"><div class="c" style="right:0;transform-origin:100% 0;transform:scaleX(0.885);">27 651</div></div>
<div class="b" style="left:13px;top:642px;width:941px;height:1px;background:#8E887C;"></div>
<div class="t" style="left:19px;top:643px;width:96px;height:17px;overflow:hidden"><div class="c" style="left:0;transform-origin:0 0;transform:scaleX(0.885);">20.02.13</div></div>
<div class="t" style="left:122px;top:643px;width:122px;height:17px;overflow:hidden"><div class="c" style="left:0;transform-origin:0 0;transform:scaleX(0.917);">ПЭ000000158</div></div>
<div class="t" style="left:251px;top:643px;width:165px;height:17px;overflow:hidden"><div class="c" style="left:0;transform-origin:0 0;transform:scaleX(0.917);">Закрыт</div></div>
<div class="t" style="left:423px;top:643px;width:209px;height:17px;overflow:hidden"><div class="c" style="left:0;transform-origin:0 0;transform:scaleX(0.917);">А-МИР</div></div>
<div class="t" style="left:639px;top:643px;width:209px;height:17px;overflow:hidden"><div class="c" style="left:0;transform-origin:0 0;transform:scaleX(0.917);">Рамазанов Агап</div></div>
<div class="t" style="left:849px;top:643px;width:104px;height:17px;overflow:hidden;text-align:right"><div class="c" style="right:0;transform-origin:100% 0;transform:scaleX(0.885);">521 221</div></div>
<div class="b" style="left:13px;top:660px;width:941px;height:1px;background:#8E887C;"></div>
<div class="t" style="left:19px;top:661px;width:96px;height:17px;overflow:hidden"><div class="c" style="left:0;transform-origin:0 0;transform:scaleX(0.885);">22.05.13</div></div>
<div class="t" style="left:122px;top:661px;width:122px;height:17px;overflow:hidden"><div class="c" style="left:0;transform-origin:0 0;transform:scaleX(0.917);">ПЭ000000445</div></div>
<div class="t" style="left:251px;top:661px;width:165px;height:17px;overflow:hidden"><div class="c" style="left:0;transform-origin:0 0;transform:scaleX(0.917);">Закрыт</div></div>
<div class="t" style="left:423px;top:661px;width:209px;height:17px;overflow:hidden"><div class="c" style="left:0;transform-origin:0 0;transform:scaleX(0.917);">АВЕРС</div></div>
<div class="t" style="left:639px;top:661px;width:209px;height:17px;overflow:hidden"><div class="c" style="left:0;transform-origin:0 0;transform:scaleX(0.917);">Рамазанов Агап</div></div>
<div class="t" style="left:849px;top:661px;width:104px;height:17px;overflow:hidden;text-align:right"><div class="c" style="right:0;transform-origin:100% 0;transform:scaleX(0.885);">861 990</div></div>
<div class="b" style="left:13px;top:678px;width:941px;height:1px;background:#8E887C;"></div>
<div class="t" style="left:19px;top:679px;width:96px;height:17px;overflow:hidden"><div class="c" style="left:0;transform-origin:0 0;transform:scaleX(0.885);">27.06.13</div></div>
<div class="t" style="left:122px;top:679px;width:122px;height:17px;overflow:hidden"><div class="c" style="left:0;transform-origin:0 0;transform:scaleX(0.917);">ПЭ000000560</div></div>
<div class="t" style="left:251px;top:679px;width:165px;height:17px;overflow:hidden"><div class="c" style="left:0;transform-origin:0 0;transform:scaleX(0.917);">В работе</div></div>
<div class="t" style="left:423px;top:679px;width:209px;height:17px;overflow:hidden"><div class="c" style="left:0;transform-origin:0 0;transform:scaleX(0.917);">Автопоезд</div></div>
<div class="t" style="left:639px;top:679px;width:209px;height:17px;overflow:hidden"><div class="c" style="left:0;transform-origin:0 0;transform:scaleX(0.917);">Рамазанов Агап</div></div>
<div class="t" style="left:849px;top:679px;width:104px;height:17px;overflow:hidden;text-align:right"><div class="c" style="right:0;transform-origin:100% 0;transform:scaleX(0.885);">301 785</div></div>
<div class="b" style="left:13px;top:696px;width:941px;height:1px;background:#8E887C;"></div>
<div class="t" style="left:19px;top:697px;width:96px;height:17px;overflow:hidden"><div class="c" style="left:0;transform-origin:0 0;transform:scaleX(0.885);">29.08.13</div></div>
<div class="t" style="left:122px;top:697px;width:122px;height:17px;overflow:hidden"><div class="c" style="left:0;transform-origin:0 0;transform:scaleX(0.917);">ПЭ000000760</div></div>
<div class="t" style="left:251px;top:697px;width:165px;height:17px;overflow:hidden"><div class="c" style="left:0;transform-origin:0 0;transform:scaleX(0.917);">В работе</div></div>
<div class="t" style="left:423px;top:697px;width:209px;height:17px;overflow:hidden"><div class="c" style="left:0;transform-origin:0 0;transform:scaleX(0.917);">АВТОПРИЦЕП-КАМАЗ</div></div>
<div class="t" style="left:639px;top:697px;width:209px;height:17px;overflow:hidden"><div class="c" style="left:0;transform-origin:0 0;transform:scaleX(0.917);">Рамазанов Агап</div></div>
<div class="t" style="left:849px;top:697px;width:104px;height:17px;overflow:hidden;text-align:right"><div class="c" style="right:0;transform-origin:100% 0;transform:scaleX(0.885);">9 393</div></div>
<div class="b" style="left:13px;top:714px;width:941px;height:1px;background:#8E887C;"></div>
<div class="t" style="left:19px;top:715px;width:96px;height:17px;overflow:hidden"><div class="c" style="left:0;transform-origin:0 0;transform:scaleX(0.885);">25.10.13</div></div>
<div class="t" style="left:122px;top:715px;width:122px;height:17px;overflow:hidden"><div class="c" style="left:0;transform-origin:0 0;transform:scaleX(0.917);">ПЭ000000947</div></div>
<div class="t" style="left:251px;top:715px;width:165px;height:17px;overflow:hidden"><div class="c" style="left:0;transform-origin:0 0;transform:scaleX(0.917);">Закрыт</div></div>
<div class="t" style="left:423px;top:715px;width:209px;height:17px;overflow:hidden"><div class="c" style="left:0;transform-origin:0 0;transform:scaleX(0.917);">АМИР</div></div>
<div class="t" style="left:639px;top:715px;width:209px;height:17px;overflow:hidden"><div class="c" style="left:0;transform-origin:0 0;transform:scaleX(0.917);">Рамазанов Агап</div></div>
<div class="t" style="left:849px;top:715px;width:104px;height:17px;overflow:hidden;text-align:right"><div class="c" style="right:0;transform-origin:100% 0;transform:scaleX(0.885);">1 013 871</div></div>
<div class="b" style="left:13px;top:732px;width:941px;height:1px;background:#8E887C;"></div>
<div class="t" style="left:19px;top:733px;width:96px;height:17px;overflow:hidden"><div class="c" style="left:0;transform-origin:0 0;transform:scaleX(0.885);">20.02.14</div></div>
<div class="t" style="left:122px;top:733px;width:122px;height:17px;overflow:hidden"><div class="c" style="left:0;transform-origin:0 0;transform:scaleX(0.917);">ПМ000000017</div></div>
<div class="t" style="left:251px;top:733px;width:165px;height:17px;overflow:hidden"><div class="c" style="left:0;transform-origin:0 0;transform:scaleX(0.917);">В работе</div></div>
<div class="t" style="left:423px;top:733px;width:209px;height:17px;overflow:hidden"><div class="c" style="left:0;transform-origin:0 0;transform:scaleX(0.917);">Автовышки в аренду - SKY-сервис</div></div>
<div class="t" style="left:639px;top:733px;width:209px;height:17px;overflow:hidden"><div class="c" style="left:0;transform-origin:0 0;transform:scaleX(0.917);">Рамазанов Агап</div></div>
<div class="t" style="left:849px;top:733px;width:104px;height:17px;overflow:hidden;text-align:right"><div class="c" style="right:0;transform-origin:100% 0;transform:scaleX(0.885);">48 300</div></div>
<div class="b" style="left:13px;top:750px;width:941px;height:1px;background:#8E887C;"></div>
<div class="t" style="left:19px;top:751px;width:96px;height:17px;overflow:hidden"><div class="c" style="left:0;transform-origin:0 0;transform:scaleX(0.885);">04.04.14</div></div>
<div class="t" style="left:122px;top:751px;width:122px;height:17px;overflow:hidden"><div class="c" style="left:0;transform-origin:0 0;transform:scaleX(0.917);">ПЭ000000323</div></div>
<div class="t" style="left:251px;top:751px;width:165px;height:17px;overflow:hidden"><div class="c" style="left:0;transform-origin:0 0;transform:scaleX(0.917);">В работе</div></div>
<div class="t" style="left:423px;top:751px;width:209px;height:17px;overflow:hidden"><div class="c" style="left:0;transform-origin:0 0;transform:scaleX(0.917);">Авторитет</div></div>
<div class="t" style="left:639px;top:751px;width:209px;height:17px;overflow:hidden"><div class="c" style="left:0;transform-origin:0 0;transform:scaleX(0.917);">Рамазанов Агап</div></div>
<div class="t" style="left:849px;top:751px;width:104px;height:17px;overflow:hidden;text-align:right"><div class="c" style="right:0;transform-origin:100% 0;transform:scaleX(0.885);">62 751</div></div>
<div class="b" style="left:116px;top:592px;width:1px;height:191px;background:#8E887C;"></div>
<div class="b" style="left:245px;top:592px;width:1px;height:191px;background:#8E887C;"></div>
<div class="b" style="left:417px;top:592px;width:1px;height:191px;background:#8E887C;"></div>
<div class="b" style="left:633px;top:592px;width:1px;height:191px;background:#8E887C;"></div>
<div class="b" style="left:849px;top:592px;width:1px;height:191px;background:#8E887C;"></div>
<div class="b" style="left:13px;top:768px;width:941px;height:1px;background:#847F73;"></div>
<div class="b" style="left:14px;top:769px;width:940px;height:14px;background:#ECE7DF;"></div>
<div class="b" style="left:116px;top:768px;width:1px;height:15px;background:#8E887C;"></div>
<div class="b" style="left:245px;top:768px;width:1px;height:15px;background:#8E887C;"></div>
<div class="b" style="left:417px;top:768px;width:1px;height:15px;background:#8E887C;"></div>
<div class="b" style="left:633px;top:768px;width:1px;height:15px;background:#8E887C;"></div>
<div class="b" style="left:849px;top:768px;width:1px;height:15px;background:#8E887C;"></div>
<div class="t" style="top:769px;font-size:12px;line-height:14px;right:967px;transform:scaleX(0.885);transform-origin:100% 0;">4 293 554</div>
<div class="b" style="left:13px;top:591px;width:956px;height:193px;box-sizing:border-box;border:1px solid #847F73;"></div>
<div class="b" style="left:954px;top:592px;width:14px;height:191px;background:#FBFAF6;"></div>
<div class="b" style="left:956px;top:593px;width:11px;height:11px;background:#E6E1D6;box-sizing:border-box;border:1px solid #CFCABE;"></div>
<svg class="b" style="left:958px;top:596px" width="8" height="5" viewBox="0 0 8 5"><path d="M0.8 4.2L3.8 1.2L6.8 4.2" stroke="#4A4A4A" stroke-width="1.6" fill="none"/></svg>
<div class="b" style="left:956px;top:771px;width:11px;height:11px;background:#E6E1D6;box-sizing:border-box;border:1px solid #CFCABE;"></div>
<svg class="b" style="left:958px;top:774px" width="8" height="5" viewBox="0 0 8 5"><path d="M0.8 0.8L3.8 3.8L6.8 0.8" stroke="#4A4A4A" stroke-width="1.6" fill="none"/></svg>
<div class="b" style="left:956px;top:605px;width:11px;height:127px;background:#E6E1D6;box-sizing:border-box;border:1px solid #CFCABE;"></div>
<div class="b" style="left:984px;top:682px;width:917px;height:102px;background:#FFFFFF;"></div>
<div class="b" style="left:985px;top:683px;width:901px;height:14px;background:#ECE7DF;"></div>
<div class="b" style="left:985px;top:683px;width:264px;height:14px;background:#C9C1B5;"></div>
<div class="t" style="left:986px;top:683px;width:262px;height:14px;overflow:hidden"><div class="c" style="left:0;top:0;transform-origin:0 0">ТипСобытия</div></div>
<div class="t" style="left:1251px;top:683px;width:262px;height:14px;overflow:hidden"><div class="c" style="left:0;top:0;transform-origin:0 0">ВидСобытия</div></div>
<div class="t" style="left:1516px;top:683px;width:262px;height:14px;overflow:hidden"><div class="c" style="left:0;top:0;transform-origin:0 0">Состояние</div></div>
<div class="t" style="left:1781px;top:683px;width:104px;height:14px;overflow:hidden"><div class="c" style="left:0;top:0;transform-origin:0 0">Количество</div></div>
<div class="b" style="left:984px;top:697px;width:902px;height:1px;background:#847F73;"></div>
<div class="b" style="left:985px;top:698px;width:264px;height:17px;background:#E8FFFF;"></div>
<div class="t" style="left:990px;top:698px;width:258px;height:17px;overflow:hidden"><div class="c" style="left:0;transform-origin:0 0;transform:scaleX(0.917);">Задача</div></div>
<div class="t" style="left:1255px;top:698px;width:258px;height:17px;overflow:hidden"><div class="c" style="left:0;transform-origin:0 0;transform:scaleX(0.917);">Работа с коммерческим</div></div>
<div class="t" style="left:1520px;top:698px;width:258px;height:17px;overflow:hidden"><div class="c" style="left:0;transform-origin:0 0;transform:scaleX(0.917);">Выполнено</div></div>
<div class="t" style="left:1779px;top:698px;width:106px;height:17px;overflow:hidden;text-align:right"><div class="c" style="right:0;transform-origin:100% 0;transform:scaleX(0.885);">260</div></div>
<div class="b" style="left:984px;top:715px;width:902px;height:1px;background:#8E887C;"></div>
<div class="t" style="left:990px;top:716px;width:258px;height:17px;overflow:hidden"><div class="c" style="left:0;transform-origin:0 0;transform:scaleX(0.917);">Задача</div></div>
<div class="t" style="left:1255px;top:716px;width:258px;height:17px;overflow:hidden"><div class="c" style="left:0;transform-origin:0 0;transform:scaleX(0.917);">Работа с коммерческим</div></div>
<div class="t" style="left:1520px;top:716px;width:258px;height:17px;overflow:hidden"><div class="c" style="left:0;transform-origin:0 0;transform:scaleX(0.917);">План</div></div>
<div class="t" style="left:1779px;top:716px;width:106px;height:17px;overflow:hidden;text-align:right"><div class="c" style="right:0;transform-origin:100% 0;transform:scaleX(0.885);">430</div></div>
<div class="b" style="left:984px;top:733px;width:902px;height:1px;background:#8E887C;"></div>
<div class="t" style="left:990px;top:734px;width:258px;height:17px;overflow:hidden"><div class="c" style="left:0;transform-origin:0 0;transform:scaleX(0.917);">Исходящее</div></div>
<div class="t" style="left:1255px;top:734px;width:258px;height:17px;overflow:hidden"><div class="c" style="left:0;transform-origin:0 0;transform:scaleX(0.917);">Почтовое письмо</div></div>
<div class="t" style="left:1520px;top:734px;width:258px;height:17px;overflow:hidden"><div class="c" style="left:0;transform-origin:0 0;transform:scaleX(0.917);">Выполнено</div></div>
<div class="t" style="left:1779px;top:734px;width:106px;height:17px;overflow:hidden;text-align:right"><div class="c" style="right:0;transform-origin:100% 0;transform:scaleX(0.885);">1</div></div>
<div class="b" style="left:984px;top:751px;width:902px;height:1px;background:#8E887C;"></div>
<div class="t" style="left:990px;top:752px;width:258px;height:17px;overflow:hidden"><div class="c" style="left:0;transform-origin:0 0;transform:scaleX(0.917);">Исходящее</div></div>
<div class="t" style="left:1255px;top:752px;width:258px;height:17px;overflow:hidden"><div class="c" style="left:0;transform-origin:0 0;transform:scaleX(0.917);">Телефонный звонок</div></div>
<div class="t" style="left:1520px;top:752px;width:258px;height:17px;overflow:hidden"><div class="c" style="left:0;transform-origin:0 0;transform:scaleX(0.917);">Выполнено</div></div>
<div class="t" style="left:1779px;top:752px;width:106px;height:17px;overflow:hidden;text-align:right"><div class="c" style="right:0;transform-origin:100% 0;transform:scaleX(0.885);">2</div></div>
<div class="b" style="left:984px;top:769px;width:902px;height:1px;background:#8E887C;"></div>
<div class="t" style="left:990px;top:770px;width:258px;height:13px;overflow:hidden"><div class="c" style="left:0;transform-origin:0 0;transform:scaleX(0.917);">Исходящее</div></div>
<div class="t" style="left:1255px;top:770px;width:258px;height:13px;overflow:hidden"><div class="c" style="left:0;transform-origin:0 0;transform:scaleX(0.917);">Электронное письмо</div></div>
<div class="t" style="left:1520px;top:770px;width:258px;height:13px;overflow:hidden"><div class="c" style="left:0;transform-origin:0 0;transform:scaleX(0.917);">Выполнено</div></div>
<div class="t" style="left:1779px;top:770px;width:106px;height:13px;overflow:hidden;text-align:right"><div class="c" style="right:0;transform-origin:100% 0;transform:scaleX(0.885);">23</div></div>
<div class="b" style="left:1249px;top:683px;width:1px;height:100px;background:#8E887C;"></div>
<div class="b" style="left:1514px;top:683px;width:1px;height:100px;background:#8E887C;"></div>
<div class="b" style="left:1779px;top:683px;width:1px;height:100px;background:#8E887C;"></div>
<div class="b" style="left:984px;top:682px;width:917px;height:102px;box-sizing:border-box;border:1px solid #847F73;"></div>
<div class="b" style="left:1886px;top:683px;width:14px;height:100px;background:#FBFAF6;"></div>
<div class="b" style="left:1888px;top:684px;width:11px;height:11px;background:#E6E1D6;box-sizing:border-box;border:1px solid #CFCABE;"></div>
<svg class="b" style="left:1890px;top:687px" width="8" height="5" viewBox="0 0 8 5"><path d="M0.8 4.2L3.8 1.2L6.8 4.2" stroke="#4A4A4A" stroke-width="1.6" fill="none"/></svg>
<div class="b" style="left:1888px;top:771px;width:11px;height:11px;background:#E6E1D6;box-sizing:border-box;border:1px solid #CFCABE;"></div>
<svg class="b" style="left:1890px;top:774px" width="8" height="5" viewBox="0 0 8 5"><path d="M0.8 0.8L3.8 3.8L6.8 0.8" stroke="#4A4A4A" stroke-width="1.6" fill="none"/></svg>
<div class="b" style="left:1888px;top:696px;width:11px;height:55px;background:#E6E1D6;box-sizing:border-box;border:1px solid #CFCABE;"></div>
<div class="b" style="left:13px;top:804px;width:956px;height:158px;background:#FFFFFF;"></div>
<div class="b" style="left:14px;top:805px;width:954px;height:14px;background:#ECE7DF;"></div>
<div class="b" style="left:14px;top:805px;width:160px;height:14px;background:#C9C1B5;"></div>
<div class="t" style="left:15px;top:805px;width:158px;height:14px;overflow:hidden"><div class="c" style="left:0;top:0;transform-origin:0 0">Группа</div></div>
<div class="t" style="left:176px;top:805px;width:158px;height:14px;overflow:hidden"><div class="c" style="left:0;top:0;transform-origin:0 0">Артикул</div></div>
<div class="t" style="left:337px;top:805px;width:372px;height:14px;overflow:hidden"><div class="c" style="left:0;top:0;transform-origin:0 0">Номенклатура</div></div>
<div class="t" style="left:712px;top:805px;width:126px;height:14px;overflow:hidden"><div class="c" style="left:0;top:0;transform-origin:0 0">Количество</div></div>
<div class="t" style="left:841px;top:805px;width:126px;height:14px;overflow:hidden"><div class="c" style="left:0;top:0;transform-origin:0 0">Сумма</div></div>
<div class="b" style="left:13px;top:819px;width:955px;height:1px;background:#847F73;"></div>
<div class="b" style="left:174px;top:805px;width:1px;height:14px;background:#8E887C;"></div>
<div class="b" style="left:335px;top:805px;width:1px;height:14px;background:#8E887C;"></div>
<div class="b" style="left:710px;top:805px;width:1px;height:14px;background:#8E887C;"></div>
<div class="b" style="left:839px;top:805px;width:1px;height:14px;background:#8E887C;"></div>
<div class="b" style="left:13px;top:804px;width:956px;height:158px;box-sizing:border-box;border:1px solid #847F73;"></div>
<div class="b" style="left:984px;top:804px;width:917px;height:158px;background:#FFFFFF;"></div>
<div class="b" style="left:985px;top:805px;width:901px;height:29px;background:#ECE7DF;"></div>
<div class="b" style="left:985px;top:805px;width:112px;height:14px;background:#C9C1B5;"></div>
<div class="b" style="left:984px;top:819px;width:563px;height:1px;background:#8E887C;"></div>
<div class="b" style="left:1097px;top:805px;width:1px;height:14px;background:#8E887C;"></div>
<div class="b" style="left:1378px;top:805px;width:1px;height:29px;background:#8E887C;"></div>
<div class="b" style="left:1547px;top:805px;width:1px;height:156px;background:#8E887C;"></div>
<div class="b" style="left:984px;top:834px;width:902px;height:1px;background:#847F73;"></div>
<div class="t" style="top:805px;font-size:12px;line-height:14px;left:986px;transform:scaleX(0.917);transform-origin:0 0;">Дата</div>
<div class="t" style="top:805px;font-size:12px;line-height:14px;left:1099px;transform:scaleX(0.917);transform-origin:0 0;">Ответственный</div>
<div class="t" style="top:805px;font-size:12px;line-height:14px;left:1380px;transform:scaleX(0.917);transform-origin:0 0;">Состояние</div>
<div class="t" style="top:805px;font-size:12px;line-height:14px;left:1549px;transform:scaleX(0.917);transform-origin:0 0;">ОписаниеСобытия</div>
<div class="t" style="top:820px;font-size:12px;line-height:14px;left:986px;transform:scaleX(0.917);transform-origin:0 0;">ВидСобытия</div>
<div class="t" style="top:820px;font-size:12px;line-height:14px;left:1380px;transform:scaleX(0.917);transform-origin:0 0;">ТипСобытия</div>
<div class="b" style="left:985px;top:835px;width:112px;height:17px;background:#E8FFFF;"></div>
<div class="b" style="left:984px;top:852px;width:563px;height:1px;background:#8E887C;"></div>
<div class="b" style="left:1097px;top:835px;width:1px;height:17px;background:#8E887C;"></div>
<div class="b" style="left:1378px;top:835px;width:1px;height:35px;background:#8E887C;"></div>
<div class="t" style="top:836px;font-size:12px;line-height:14px;left:990px;transform:scaleX(0.885);transform-origin:0 0;">12.11.18</div>
<div class="t" style="top:836px;font-size:12px;line-height:14px;left:1103px;transform:scaleX(0.917);transform-origin:0 0;">Гуськов Казимир</div>
<div class="t" style="top:836px;font-size:12px;line-height:14px;left:1384px;transform:scaleX(0.917);transform-origin:0 0;">Выполнено</div>
<div class="t" style="top:836px;font-size:12px;line-height:14px;color:#1A1A90;left:1553px;transform:scaleX(0.917);transform-origin:0 0;">Демо-задача. Текущая работа с коммерческим предложением</div>
<div class="t" style="top:854px;font-size:12px;line-height:14px;color:#1A1A90;left:990px;transform:scaleX(0.917);transform-origin:0 0;">Работа с коммерческим</div>
<div class="t" style="top:854px;font-size:12px;line-height:14px;left:1384px;transform:scaleX(0.917);transform-origin:0 0;">Задача</div>
<div class="b" style="left:984px;top:870px;width:902px;height:1px;background:#8E887C;"></div>
<div class="t" style="top:872px;font-size:12px;line-height:14px;left:990px;transform:scaleX(0.885);transform-origin:0 0;">12.11.18</div>
<div class="t" style="top:872px;font-size:12px;line-height:14px;left:1103px;transform:scaleX(0.917);transform-origin:0 0;">Зарубина Пелагея</div>
<div class="t" style="top:872px;font-size:12px;line-height:14px;left:1384px;transform:scaleX(0.917);transform-origin:0 0;">Выполнено</div>
<div class="t" style="top:872px;font-size:12px;line-height:14px;color:#1A1A90;left:1553px;transform:scaleX(0.917);transform-origin:0 0;">Демо-задача. Текущая работа с коммерческим предложением</div>
<div class="t" style="top:890px;font-size:12px;line-height:14px;color:#1A1A90;left:990px;transform:scaleX(0.917);transform-origin:0 0;">Работа с коммерческим</div>
<div class="t" style="top:890px;font-size:12px;line-height:14px;left:1384px;transform:scaleX(0.917);transform-origin:0 0;">Задача</div>
<div class="b" style="left:984px;top:906px;width:902px;height:1px;background:#8E887C;"></div>
<div class="t" style="top:908px;font-size:12px;line-height:14px;left:990px;transform:scaleX(0.885);transform-origin:0 0;">12.11.18</div>
<div class="t" style="top:908px;font-size:12px;line-height:14px;left:1103px;transform:scaleX(0.917);transform-origin:0 0;">Куджиашвили Юрий</div>
<div class="t" style="top:908px;font-size:12px;line-height:14px;left:1384px;transform:scaleX(0.917);transform-origin:0 0;">Выполнено</div>
<div class="t" style="top:908px;font-size:12px;line-height:14px;color:#1A1A90;left:1553px;transform:scaleX(0.917);transform-origin:0 0;">Демо-задача. Текущая работа с коммерческим предложением</div>
<div class="t" style="top:926px;font-size:12px;line-height:14px;color:#1A1A90;left:990px;transform:scaleX(0.917);transform-origin:0 0;">Работа с коммерческим</div>
<div class="t" style="top:926px;font-size:12px;line-height:14px;left:1384px;transform:scaleX(0.917);transform-origin:0 0;">Задача</div>
<div class="b" style="left:984px;top:942px;width:902px;height:1px;background:#8E887C;"></div>
<div class="t" style="top:944px;font-size:12px;line-height:14px;left:990px;transform:scaleX(0.885);transform-origin:0 0;">12.11.18</div>
<div class="t" style="top:944px;font-size:12px;line-height:14px;left:1103px;transform:scaleX(0.917);transform-origin:0 0;">Куджиашвили Юрий</div>
<div class="t" style="top:944px;font-size:12px;line-height:14px;left:1384px;transform:scaleX(0.917);transform-origin:0 0;">Выполнено</div>
<div class="t" style="top:944px;font-size:12px;line-height:14px;color:#1A1A90;left:1553px;transform:scaleX(0.917);transform-origin:0 0;">Демо-задача. Текущая работа с коммерческим предложением</div>
<div class="b" style="left:984px;top:804px;width:917px;height:158px;box-sizing:border-box;border:1px solid #847F73;"></div>
<div class="b" style="left:1886px;top:805px;width:14px;height:156px;background:#FBFAF6;"></div>
<div class="b" style="left:1888px;top:806px;width:11px;height:11px;background:#E6E1D6;box-sizing:border-box;border:1px solid #CFCABE;"></div>
<svg class="b" style="left:1890px;top:809px" width="8" height="5" viewBox="0 0 8 5"><path d="M0.8 4.2L3.8 1.2L6.8 4.2" stroke="#4A4A4A" stroke-width="1.6" fill="none"/></svg>
<div class="b" style="left:1888px;top:949px;width:11px;height:11px;background:#E6E1D6;box-sizing:border-box;border:1px solid #CFCABE;"></div>
<svg class="b" style="left:1890px;top:952px" width="8" height="5" viewBox="0 0 8 5"><path d="M0.8 0.8L3.8 3.8L6.8 0.8" stroke="#4A4A4A" stroke-width="1.6" fill="none"/></svg>
<div class="b" style="left:1888px;top:819px;width:11px;height:26px;background:#E6E1D6;box-sizing:border-box;border:1px solid #CFCABE;"></div>
<div class="b" style="left:0px;top:996px;width:1920px;height:44px;background:#EAE4D8;"></div>
<div class="b" style="left:1px;top:998px;width:172px;height:20px;background:#C4D0DD;box-sizing:border-box;border:1px solid #9A9890;"></div>
<svg class="b" style="left:1px;top:998px" width="20" height="17" viewBox="0 0 20 17"><rect x="3.5" y="9.5" width="8" height="6" fill="#6ADCD0" stroke="#3A6AAA"/><path d="M4.8 10.8H10.2L7.5 14Z" fill="#0A0A9A"/><g fill="#000"><rect x="7" y="5" width="1" height="1"/><rect x="10" y="5" width="1" height="1"/><rect x="7" y="7" width="1" height="1"/><rect x="7" y="9" width="1" height="1"/></g><path d="M14.4 1L18.7 5.3L14.4 9.6L10.6 5.3Z" fill="#FFFF9A" stroke="#7A7A20" stroke-width="0.8"/><rect x="13" y="5" width="1.2" height="1.2" fill="#000"/></svg>
<div class="t" style="top:1002px;font-size:12px;line-height:14px;left:20px;transform:scaleX(0.917);transform-origin:0 0;">BI конструктор</div>
<div class="b" style="left:174px;top:998px;width:172px;height:20px;background:#9DB5D2;box-sizing:border-box;border:1px solid #9A9890;"></div>
<svg class="b" style="left:174px;top:998px" width="20" height="17" viewBox="0 0 20 17"><rect x="3.5" y="9.5" width="8" height="6" fill="#6ADCD0" stroke="#3A6AAA"/><path d="M4.8 10.8H10.2L7.5 14Z" fill="#0A0A9A"/><g fill="#000"><rect x="7" y="5" width="1" height="1"/><rect x="10" y="5" width="1" height="1"/><rect x="7" y="7" width="1" height="1"/><rect x="7" y="9" width="1" height="1"/></g><path d="M14.4 1L18.7 5.3L14.4 9.6L10.6 5.3Z" fill="#FFFF9A" stroke="#7A7A20" stroke-width="0.8"/><rect x="13" y="5" width="1.2" height="1.2" fill="#000"/></svg>
<div class="t" style="top:1002px;font-size:12px;line-height:14px;left:193px;transform:scaleX(0.917);transform-origin:0 0;">ДЕМО: !Рабочее место руко…</div>
<div class="b" style="left:0px;top:1019px;width:1920px;height:1px;background:#D6D0C4;"></div>
<div class="b" style="left:0px;top:1020px;width:1920px;height:1px;background:#F8F6F0;"></div>
<div class="b" style="left:1px;top:1021px;width:1846px;height:18px;box-sizing:border-box;border:1px solid #D6D0C4;"></div>
<div class="b" style="left:1852px;top:1021px;width:29px;height:18px;box-sizing:border-box;border:1px solid #D6D0C4;"></div>
<div class="b" style="left:1886px;top:1021px;width:33px;height:18px;box-sizing:border-box;border:1px solid #D6D0C4;"></div>
<div class="t" style="top:1023px;font-size:12px;line-height:14px;left:4px;transform:scaleX(0.917);transform-origin:0 0;">Для получения подсказки нажмите F1</div>
<div class="t" style="top:1023px;font-size:12px;line-height:14px;color:#8A8A8A;left:1855px;transform:scaleX(0.917);transform-origin:0 0;">CAP</div>
<div class="t" style="top:1023px;font-size:12px;line-height:14px;left:1889px;transform:scaleX(0.917);transform-origin:0 0;">NUM</div>
</body></html>
